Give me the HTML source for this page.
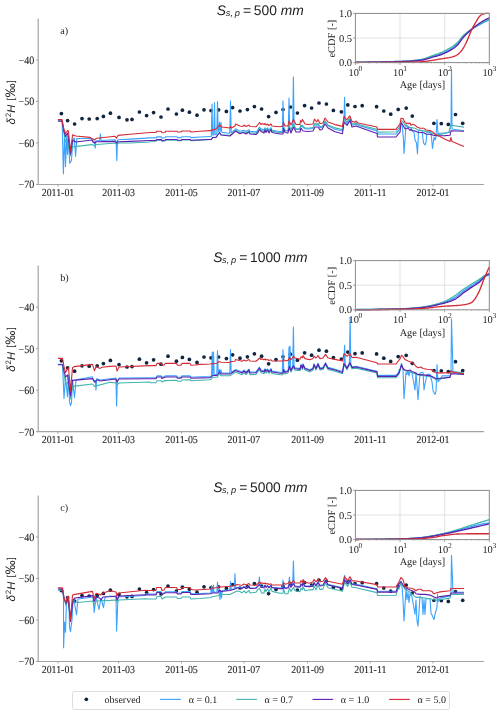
<!DOCTYPE html><html><head><meta charset="utf-8"><style>html,body{margin:0;padding:0;background:#fff;width:500px;height:715px;overflow:hidden}svg{display:block;text-rendering:geometricPrecision;-webkit-font-smoothing:antialiased;will-change:transform}</style></head><body>
<svg width="500" height="715" viewBox="0 0 500 715">
<rect width="500" height="715" fill="#fff"/>
<g transform="translate(0,0.0)">
<path d="M38.2,18.4 V184.5 H484" fill="none" stroke="#a3a3a3" stroke-width="1.2"/>
<line x1="36" y1="60.0" x2="38.2" y2="60.0" stroke="#a3a3a3" stroke-width="1"/>
<text transform="translate(34.3,63.9) scale(0.96,1.06)" text-anchor="end" style="font-family:'Liberation Serif',serif;font-size:10.5px" fill="#222" stroke="#222" stroke-width="0.08">−40</text>
<line x1="36" y1="101.5" x2="38.2" y2="101.5" stroke="#a3a3a3" stroke-width="1"/>
<text transform="translate(34.3,105.4) scale(0.96,1.06)" text-anchor="end" style="font-family:'Liberation Serif',serif;font-size:10.5px" fill="#222" stroke="#222" stroke-width="0.08">−50</text>
<line x1="36" y1="143.0" x2="38.2" y2="143.0" stroke="#a3a3a3" stroke-width="1"/>
<text transform="translate(34.3,146.9) scale(0.96,1.06)" text-anchor="end" style="font-family:'Liberation Serif',serif;font-size:10.5px" fill="#222" stroke="#222" stroke-width="0.08">−60</text>
<line x1="36" y1="184.5" x2="38.2" y2="184.5" stroke="#a3a3a3" stroke-width="1"/>
<text transform="translate(34.3,188.4) scale(0.96,1.06)" text-anchor="end" style="font-family:'Liberation Serif',serif;font-size:10.5px" fill="#222" stroke="#222" stroke-width="0.08">−70</text>
<line x1="58.0" y1="184.5" x2="58.0" y2="186.5" stroke="#a3a3a3" stroke-width="1"/>
<text transform="translate(58.0,195.9) scale(0.97,1.05)" text-anchor="middle" style="font-family:'Liberation Serif',serif;font-size:10.2px" fill="#222" stroke="#222" stroke-width="0.08">2011-01</text>
<line x1="118.6" y1="184.5" x2="118.6" y2="186.5" stroke="#a3a3a3" stroke-width="1"/>
<text transform="translate(118.6,195.9) scale(0.97,1.05)" text-anchor="middle" style="font-family:'Liberation Serif',serif;font-size:10.2px" fill="#222" stroke="#222" stroke-width="0.08">2011-03</text>
<line x1="181.5" y1="184.5" x2="181.5" y2="186.5" stroke="#a3a3a3" stroke-width="1"/>
<text transform="translate(181.5,195.9) scale(0.97,1.05)" text-anchor="middle" style="font-family:'Liberation Serif',serif;font-size:10.2px" fill="#222" stroke="#222" stroke-width="0.08">2011-05</text>
<line x1="243.9" y1="184.5" x2="243.9" y2="186.5" stroke="#a3a3a3" stroke-width="1"/>
<text transform="translate(243.9,195.9) scale(0.97,1.05)" text-anchor="middle" style="font-family:'Liberation Serif',serif;font-size:10.2px" fill="#222" stroke="#222" stroke-width="0.08">2011-07</text>
<line x1="307.6" y1="184.5" x2="307.6" y2="186.5" stroke="#a3a3a3" stroke-width="1"/>
<text transform="translate(307.6,195.9) scale(0.97,1.05)" text-anchor="middle" style="font-family:'Liberation Serif',serif;font-size:10.2px" fill="#222" stroke="#222" stroke-width="0.08">2011-09</text>
<line x1="370.3" y1="184.5" x2="370.3" y2="186.5" stroke="#a3a3a3" stroke-width="1"/>
<text transform="translate(370.3,195.9) scale(0.97,1.05)" text-anchor="middle" style="font-family:'Liberation Serif',serif;font-size:10.2px" fill="#222" stroke="#222" stroke-width="0.08">2011-11</text>
<line x1="433.0" y1="184.5" x2="433.0" y2="186.5" stroke="#a3a3a3" stroke-width="1"/>
<text transform="translate(433.0,195.9) scale(0.97,1.05)" text-anchor="middle" style="font-family:'Liberation Serif',serif;font-size:10.2px" fill="#222" stroke="#222" stroke-width="0.08">2012-01</text>
<text x="60.2" y="33.8" style="font-family:'Liberation Serif',serif;font-size:10.2px" fill="#222">a)</text>
<text transform="translate(15.2,102.3) rotate(-90)" text-anchor="middle" style="font-family:'Liberation Sans',sans-serif;font-size:12.6px" fill="#222"><tspan font-style="italic" font-size="11.6px">δ</tspan><tspan dy="-4.6" dx="0.7" font-size="7.8px">2</tspan><tspan dy="4.6" dx="0.3" font-style="italic" font-size="11.2px">H</tspan><tspan dx="4.0" dy="-1.2" font-size="10px">[</tspan><tspan dy="1.2" dx="0.5" font-size="13.8px">‰</tspan><tspan dx="0.6" dy="-1.2" font-size="10px">]</tspan></text>
<text x="216.8" y="14.9" style="font-family:'Liberation Sans',sans-serif;font-size:13.8px" fill="#222" font-style="italic">S</text>
<text x="225.8" y="16.3" style="font-family:'Liberation Sans',sans-serif;font-size:9.2px" fill="#222" font-style="italic">s, p</text>
<text x="243.0" y="14.9" style="font-family:'Liberation Sans',sans-serif;font-size:14px" fill="#222">=</text>
<text x="253.8" y="14.9" style="font-family:'Liberation Sans',sans-serif;font-size:13.8px" fill="#222">500</text>
<text x="280.8" y="14.9" style="font-family:'Liberation Sans',sans-serif;font-size:13.8px" fill="#222" font-style="italic">mm</text>
<circle cx="61.4" cy="113.6" r="1.85" fill="#10253f"/>
<circle cx="67.6" cy="120.6" r="1.85" fill="#10253f"/>
<circle cx="74.6" cy="124.0" r="1.85" fill="#10253f"/>
<circle cx="82.0" cy="118.6" r="1.85" fill="#10253f"/>
<circle cx="89.2" cy="119.0" r="1.85" fill="#10253f"/>
<circle cx="97.2" cy="118.6" r="1.85" fill="#10253f"/>
<circle cx="103.4" cy="116.4" r="1.85" fill="#10253f"/>
<circle cx="110.4" cy="113.2" r="1.85" fill="#10253f"/>
<circle cx="119.0" cy="117.4" r="1.85" fill="#10253f"/>
<circle cx="127.0" cy="119.8" r="1.85" fill="#10253f"/>
<circle cx="132.0" cy="119.4" r="1.85" fill="#10253f"/>
<circle cx="139.4" cy="112.0" r="1.85" fill="#10253f"/>
<circle cx="146.6" cy="115.6" r="1.85" fill="#10253f"/>
<circle cx="153.6" cy="112.6" r="1.85" fill="#10253f"/>
<circle cx="161.0" cy="117.0" r="1.85" fill="#10253f"/>
<circle cx="168.0" cy="109.0" r="1.85" fill="#10253f"/>
<circle cx="176.4" cy="114.0" r="1.85" fill="#10253f"/>
<circle cx="182.4" cy="110.2" r="1.85" fill="#10253f"/>
<circle cx="189.4" cy="112.2" r="1.85" fill="#10253f"/>
<circle cx="197.0" cy="115.2" r="1.85" fill="#10253f"/>
<circle cx="204.0" cy="109.8" r="1.85" fill="#10253f"/>
<circle cx="211.0" cy="110.6" r="1.85" fill="#10253f"/>
<circle cx="218.6" cy="109.8" r="1.85" fill="#10253f"/>
<circle cx="226.4" cy="111.4" r="1.85" fill="#10253f"/>
<circle cx="232.6" cy="107.6" r="1.85" fill="#10253f"/>
<circle cx="240.0" cy="111.0" r="1.85" fill="#10253f"/>
<circle cx="247.4" cy="109.6" r="1.85" fill="#10253f"/>
<circle cx="254.4" cy="106.6" r="1.85" fill="#10253f"/>
<circle cx="261.6" cy="109.0" r="1.85" fill="#10253f"/>
<circle cx="268.6" cy="116.6" r="1.85" fill="#10253f"/>
<circle cx="276.0" cy="112.4" r="1.85" fill="#10253f"/>
<circle cx="283.0" cy="109.6" r="1.85" fill="#10253f"/>
<circle cx="290.4" cy="107.0" r="1.85" fill="#10253f"/>
<circle cx="297.4" cy="113.0" r="1.85" fill="#10253f"/>
<circle cx="304.6" cy="105.6" r="1.85" fill="#10253f"/>
<circle cx="311.6" cy="108.0" r="1.85" fill="#10253f"/>
<circle cx="319.0" cy="103.0" r="1.85" fill="#10253f"/>
<circle cx="326.4" cy="104.0" r="1.85" fill="#10253f"/>
<circle cx="333.4" cy="110.4" r="1.85" fill="#10253f"/>
<circle cx="341.4" cy="111.8" r="1.85" fill="#10253f"/>
<circle cx="347.8" cy="104.9" r="1.85" fill="#10253f"/>
<circle cx="355.0" cy="106.5" r="1.85" fill="#10253f"/>
<circle cx="362.2" cy="105.7" r="1.85" fill="#10253f"/>
<circle cx="376.6" cy="106.7" r="1.85" fill="#10253f"/>
<circle cx="383.8" cy="111.0" r="1.85" fill="#10253f"/>
<circle cx="390.7" cy="114.2" r="1.85" fill="#10253f"/>
<circle cx="398.2" cy="109.4" r="1.85" fill="#10253f"/>
<circle cx="406.2" cy="108.1" r="1.85" fill="#10253f"/>
<circle cx="412.3" cy="116.1" r="1.85" fill="#10253f"/>
<circle cx="433.9" cy="123.3" r="1.85" fill="#10253f"/>
<circle cx="441.3" cy="123.6" r="1.85" fill="#10253f"/>
<circle cx="448.3" cy="124.4" r="1.85" fill="#10253f"/>
<circle cx="455.5" cy="114.5" r="1.85" fill="#10253f"/>
<circle cx="462.7" cy="123.3" r="1.85" fill="#10253f"/>
<polyline points="57.9,120.5 62.1,120.5 63.4,173.7 64.6,131.8 65.5,166.6 66.7,136.0 67.6,154.4 68.4,136.0 69.7,163.2 71.4,160.7 73.0,139.3 74.3,138.0 75.6,156.1 76.8,138.5 91.9,138.5 92.4,140.2 93.0,141.1 94.4,142.1 94.5,142.0 95.2,148.2 95.9,140.9 96.0,140.8 97.0,140.7 99.7,140.5 100.4,133.8 101.1,140.5 115.0,139.8 116.1,141.1 116.8,160.6 117.5,140.3 118.0,139.8 130.0,139.1 150.0,137.9 156.0,137.9 156.5,136.9 161.5,136.9 162.0,138.1 165.0,137.8 165.5,136.8 177.0,136.8 177.5,137.6 181.0,137.6 182.0,136.7 190.0,136.7 191.0,137.6 200.0,137.0 210.0,136.5 211.3,136.5 212.0,104.0 212.7,134.9 213.8,135.0 214.5,102.5 215.2,134.7 216.0,134.6 216.8,133.6 217.5,101.5 218.2,131.8 218.8,130.9 219.5,122.0 220.2,131.0 220.3,131.1 221.0,122.5 221.7,132.3 222.0,132.4 229.8,133.3 230.5,101.0 231.2,132.4 231.5,132.4 235.0,129.6 235.5,128.7 235.6,128.7 240.0,131.2 243.0,130.5 244.0,130.3 246.0,131.5 249.0,129.6 250.0,131.4 256.0,131.9 258.0,129.8 259.5,127.1 261.0,129.1 262.0,129.1 264.0,130.1 265.0,127.8 266.0,129.9 267.5,127.9 269.0,130.4 271.0,127.6 272.0,130.3 280.0,131.5 282.3,131.3 283.0,101.0 283.7,126.9 285.0,130.2 288.0,130.6 288.3,129.1 289.0,98.0 289.7,127.2 291.0,130.2 292.7,126.2 293.4,77.0 294.1,125.6 296.0,129.4 300.0,129.4 300.5,126.7 301.0,125.6 301.5,126.4 302.5,126.5 303.0,127.3 305.0,128.7 308.0,129.0 313.0,128.5 314.5,124.8 315.0,124.4 316.5,125.2 318.0,124.3 320.0,127.7 322.0,127.2 323.0,126.0 325.0,121.8 328.0,125.8 335.0,129.2 342.5,131.0 343.9,120.8 344.6,97.4 345.3,121.5 347.0,123.3 349.7,119.1 350.0,119.1 352.0,124.9 355.0,124.7 356.0,124.1 358.0,125.3 377.0,130.9 377.5,134.0 396.0,134.0 398.0,131.3 398.5,130.7 399.0,130.0 401.0,122.0 402.0,122.5 403.5,140.0 404.0,153.5 405.0,140.0 406.0,124.5 408.0,127.5 411.0,127.5 412.5,131.5 414.0,132.0 415.0,140.0 416.5,143.0 417.5,154.0 418.5,131.0 419.5,130.0 422.0,130.5 423.5,143.0 425.0,145.0 426.0,142.0 427.0,132.0 430.0,131.5 431.0,132.5 432.5,148.5 434.0,137.0 435.0,140.0 436.0,137.0 437.0,119.5 438.0,133.5 449.0,132.5 451.0,125.0 451.5,69.0 452.0,129.0 464.0,130.8" fill="none" stroke="#3aa2ff" stroke-width="1.1" stroke-linejoin="round"/>
<polyline points="57.9,120.5 62.1,120.5 63.8,131.8 65.5,141.8 67.6,140.2 70.5,156.0 72.6,146.9 91.9,144.6 94.4,145.8 96.0,144.8 100.0,144.2 116.0,143.0 117.0,144.5 119.0,143.0 130.0,143.0 150.0,142.0 150.5,141.3 156.0,141.2 156.5,140.3 161.5,140.3 162.0,141.2 165.0,140.9 165.5,140.1 177.0,140.0 177.5,140.8 181.0,140.7 182.0,139.9 190.0,139.8 191.0,140.6 200.0,140.1 210.0,139.5 211.5,139.5 212.5,137.5 214.0,137.4 216.0,137.3 217.0,135.9 219.5,132.3 221.0,134.7 222.0,134.8 230.0,135.4 230.6,134.8 231.5,134.1 235.0,131.0 235.5,130.4 235.6,130.4 240.0,132.9 243.0,131.8 244.0,132.0 246.0,133.0 249.0,131.0 250.0,132.9 256.0,133.3 258.0,131.2 259.5,128.3 261.0,130.3 262.0,130.6 264.0,131.5 265.0,128.9 266.0,131.2 267.5,128.9 269.0,131.6 271.0,128.5 272.0,131.3 280.0,132.6 283.0,132.1 283.5,127.0 285.0,130.8 288.0,130.9 289.0,125.8 291.0,130.3 293.5,124.2 296.0,129.0 300.0,128.6 300.5,125.7 301.0,124.9 301.5,125.7 302.5,125.3 303.0,126.2 305.0,127.9 308.0,128.2 313.0,127.6 314.5,123.6 315.0,123.5 316.5,124.5 318.0,123.3 320.0,126.8 322.0,126.3 323.0,125.3 325.0,120.9 328.0,124.9 335.0,127.9 342.5,129.6 344.0,119.1 347.0,122.2 349.7,118.0 350.0,118.3 352.0,123.8 355.0,123.9 356.0,123.0 358.0,124.5 377.0,129.3 377.5,132.1 396.0,131.8 398.0,129.0 399.0,127.7 400.0,126.7 400.5,123.2 401.0,120.8 403.0,121.5 405.0,125.2 408.0,126.1 410.0,127.4 415.0,128.3 418.0,130.0 424.0,130.9 430.0,132.7 437.0,134.9 440.0,134.4 445.0,133.5 449.0,132.0 451.0,125.2 464.0,127.1" fill="none" stroke="#41b5ae" stroke-width="1.1" stroke-linejoin="round"/>
<polyline points="57.9,121.3 62.1,121.3 63.8,131.0 65.5,136.4 67.6,133.0 70.5,154.0 72.6,140.2 76.0,142.0 91.9,140.0 93.0,142.0 94.4,143.0 96.0,141.8 115.0,141.4 116.4,143.0 118.0,141.8 130.0,141.4 150.0,140.5 156.0,140.5 156.5,139.6 161.5,139.6 162.0,140.6 165.0,140.3 165.5,139.5 177.0,139.5 177.5,140.3 181.0,140.3 182.0,139.5 190.0,139.5 191.0,140.3 210.0,139.5 211.5,139.5 212.5,137.5 216.0,137.5 219.5,132.5 221.0,135.0 230.0,136.0 235.5,131.0 240.0,133.8 243.0,132.5 246.0,134.0 249.0,132.0 250.0,134.0 256.0,134.5 258.0,132.5 259.5,129.5 261.0,131.5 264.0,133.0 265.0,130.0 266.0,132.5 267.5,130.0 269.0,133.0 271.0,129.5 272.0,132.5 280.0,134.0 283.0,134.0 283.5,128.5 285.0,132.5 288.0,133.0 289.0,128.0 291.0,133.0 293.5,127.0 296.0,132.0 300.0,132.0 301.0,128.0 303.0,131.0 308.0,131.5 313.0,131.0 315.0,127.0 318.0,127.0 320.0,130.0 322.0,129.5 325.0,124.0 328.0,128.0 335.0,131.8 342.5,133.7 344.0,122.2 347.0,125.4 350.0,120.6 352.0,127.0 356.0,126.0 377.0,133.4 377.5,136.9 396.0,137.0 398.0,134.4 400.0,132.2 401.0,123.4 403.0,125.2 405.0,128.7 407.0,128.7 408.0,127.8 409.0,129.2 410.0,130.5 411.0,129.2 412.0,130.5 415.0,130.9 418.0,132.2 424.0,132.7 426.0,134.0 431.0,134.4 433.0,135.3 437.0,135.8 445.0,135.6 450.0,135.3 451.0,130.8 464.0,131.3" fill="none" stroke="#5e1fae" stroke-width="1.1" stroke-linejoin="round"/>
<polyline points="57.9,119.6 62.1,119.6 63.8,128.8 65.5,133.5 67.6,130.5 68.4,131.0 70.5,151.0 72.6,134.7 75.6,136.0 90.0,137.4 93.0,139.0 94.4,140.2 96.0,138.6 97.0,138.2 115.0,136.2 116.4,138.2 118.0,135.4 130.0,134.2 150.0,132.5 156.0,132.5 156.5,131.3 161.5,131.3 162.0,132.8 165.0,132.5 165.5,131.2 177.0,131.2 177.5,132.0 181.0,132.0 182.0,131.0 190.0,131.0 191.0,132.0 200.0,131.2 210.0,130.6 211.5,130.5 212.5,129.5 214.0,130.0 217.0,128.0 219.5,125.0 222.0,127.0 230.0,128.0 230.6,126.5 231.5,128.0 235.0,126.0 235.6,124.0 240.0,126.0 243.0,126.5 244.0,125.0 246.0,126.5 249.0,125.0 250.0,126.5 256.0,126.8 258.0,124.5 259.5,122.5 261.0,124.5 262.0,123.5 264.0,124.5 265.0,123.5 266.0,125.0 267.5,124.0 269.0,125.5 271.0,124.0 272.0,126.0 280.0,126.8 283.0,126.0 283.5,122.5 285.0,126.0 288.0,126.0 289.0,121.0 291.0,125.0 293.5,119.5 296.0,124.5 300.0,124.5 300.5,120.5 301.5,122.0 302.5,119.5 305.0,124.0 308.0,124.5 313.0,124.0 314.5,119.0 316.5,122.0 318.0,119.5 320.0,123.5 323.0,123.0 325.0,118.0 328.0,122.0 335.0,124.6 342.5,126.4 344.0,116.6 347.0,119.8 349.7,115.8 352.0,121.4 355.0,122.2 356.0,121.0 358.0,123.0 377.0,127.0 377.5,129.4 396.0,129.4 399.0,125.2 400.0,124.3 401.0,118.2 403.0,118.6 405.0,122.6 406.5,123.4 408.0,123.0 409.0,123.9 410.0,123.0 411.0,125.2 413.0,124.3 415.0,125.2 417.0,127.0 420.0,128.3 424.0,128.3 426.0,130.0 429.0,130.5 431.0,130.9 433.0,132.2 435.0,134.0 437.0,135.3 440.0,136.6 445.0,139.2 450.0,141.5 450.9,137.5 452.0,141.5 464.0,146.5" fill="none" stroke="#d42a36" stroke-width="1.1" stroke-linejoin="round"/>
<rect x="355.4" y="13.4" width="133.9" height="49.2" fill="#fff"/>
<line x1="400.0" y1="13.4" x2="400.0" y2="62.6" stroke="#d9d9d9" stroke-width="0.8"/>
<line x1="444.7" y1="13.4" x2="444.7" y2="62.6" stroke="#d9d9d9" stroke-width="0.8"/>
<line x1="355.4" y1="38" x2="489.3" y2="38" stroke="#d9d9d9" stroke-width="0.8"/>
<line x1="368.8" y1="62.6" x2="368.8" y2="63.8" stroke="#bbb" stroke-width="0.6"/>
<line x1="376.7" y1="62.6" x2="376.7" y2="63.8" stroke="#bbb" stroke-width="0.6"/>
<line x1="382.3" y1="62.6" x2="382.3" y2="63.8" stroke="#bbb" stroke-width="0.6"/>
<line x1="386.6" y1="62.6" x2="386.6" y2="63.8" stroke="#bbb" stroke-width="0.6"/>
<line x1="390.1" y1="62.6" x2="390.1" y2="63.8" stroke="#bbb" stroke-width="0.6"/>
<line x1="393.1" y1="62.6" x2="393.1" y2="63.8" stroke="#bbb" stroke-width="0.6"/>
<line x1="395.7" y1="62.6" x2="395.7" y2="63.8" stroke="#bbb" stroke-width="0.6"/>
<line x1="398.0" y1="62.6" x2="398.0" y2="63.8" stroke="#bbb" stroke-width="0.6"/>
<line x1="413.5" y1="62.6" x2="413.5" y2="63.8" stroke="#bbb" stroke-width="0.6"/>
<line x1="421.3" y1="62.6" x2="421.3" y2="63.8" stroke="#bbb" stroke-width="0.6"/>
<line x1="426.9" y1="62.6" x2="426.9" y2="63.8" stroke="#bbb" stroke-width="0.6"/>
<line x1="431.2" y1="62.6" x2="431.2" y2="63.8" stroke="#bbb" stroke-width="0.6"/>
<line x1="434.8" y1="62.6" x2="434.8" y2="63.8" stroke="#bbb" stroke-width="0.6"/>
<line x1="437.8" y1="62.6" x2="437.8" y2="63.8" stroke="#bbb" stroke-width="0.6"/>
<line x1="440.3" y1="62.6" x2="440.3" y2="63.8" stroke="#bbb" stroke-width="0.6"/>
<line x1="442.6" y1="62.6" x2="442.6" y2="63.8" stroke="#bbb" stroke-width="0.6"/>
<line x1="458.1" y1="62.6" x2="458.1" y2="63.8" stroke="#bbb" stroke-width="0.6"/>
<line x1="466.0" y1="62.6" x2="466.0" y2="63.8" stroke="#bbb" stroke-width="0.6"/>
<line x1="471.5" y1="62.6" x2="471.5" y2="63.8" stroke="#bbb" stroke-width="0.6"/>
<line x1="475.9" y1="62.6" x2="475.9" y2="63.8" stroke="#bbb" stroke-width="0.6"/>
<line x1="479.4" y1="62.6" x2="479.4" y2="63.8" stroke="#bbb" stroke-width="0.6"/>
<line x1="482.4" y1="62.6" x2="482.4" y2="63.8" stroke="#bbb" stroke-width="0.6"/>
<line x1="485.0" y1="62.6" x2="485.0" y2="63.8" stroke="#bbb" stroke-width="0.6"/>
<line x1="487.3" y1="62.6" x2="487.3" y2="63.8" stroke="#bbb" stroke-width="0.6"/>
<polyline points="355.4,62.1 356.5,62.1 357.6,62.1 358.7,62.1 359.9,62.1 361.0,62.1 362.1,62.1 363.2,62.1 364.3,62.1 365.4,62.1 366.6,62.1 367.7,62.0 368.8,62.0 369.9,62.0 371.0,62.0 372.1,62.0 373.3,62.0 374.4,62.0 375.5,62.0 376.6,61.9 377.7,61.9 378.8,61.9 379.9,61.9 381.1,61.9 382.2,61.8 383.3,61.8 384.4,61.8 385.5,61.8 386.6,61.8 387.8,61.7 388.9,61.7 390.0,61.7 391.1,61.7 392.2,61.6 393.3,61.6 394.5,61.6 395.6,61.5 396.7,61.5 397.8,61.5 398.9,61.5 400.0,61.4 401.1,61.4 402.3,61.3 403.4,61.3 404.5,61.2 405.6,61.2 406.7,61.1 407.8,61.1 409.0,61.0 410.1,60.9 411.2,60.8 412.3,60.7 413.4,60.6 414.5,60.5 415.7,60.4 416.8,60.3 417.9,60.1 419.0,60.0 420.1,59.9 421.2,59.7 422.4,59.5 423.5,59.2 424.6,58.9 425.7,58.6 426.8,58.2 427.9,57.9 429.0,57.5 430.2,57.1 431.3,56.7 432.4,56.3 433.5,55.9 434.6,55.6 435.7,55.3 436.9,54.9 438.0,54.6 439.1,54.3 440.2,53.9 441.3,53.5 442.4,53.1 443.6,52.7 444.7,52.2 445.8,51.7 446.9,51.1 448.0,50.6 449.1,50.0 450.2,49.4 451.4,48.7 452.5,48.0 453.6,47.2 454.7,46.4 455.8,45.5 456.9,44.5 458.1,43.3 459.2,41.8 460.3,40.2 461.4,38.7 462.5,37.5 463.6,36.3 464.8,35.2 465.9,34.2 467.0,33.2 468.1,32.2 469.2,31.3 470.3,30.4 471.4,29.6 472.6,28.8 473.7,28.0 474.8,27.3 475.9,26.7 477.0,26.0 478.1,25.4 479.3,24.8 480.4,24.2 481.5,23.7 482.6,23.1 483.7,22.5 484.8,22.0 486.0,21.5 487.1,21.0 488.2,20.5 489.3,20.0" fill="none" stroke="#3aa2ff" stroke-width="1.35" stroke-linejoin="round"/>
<polyline points="355.4,62.2 356.5,62.2 357.6,62.2 358.7,62.2 359.9,62.2 361.0,62.2 362.1,62.2 363.2,62.2 364.3,62.2 365.4,62.2 366.6,62.1 367.7,62.1 368.8,62.1 369.9,62.1 371.0,62.1 372.1,62.1 373.3,62.1 374.4,62.0 375.5,62.0 376.6,62.0 377.7,62.0 378.8,62.0 379.9,61.9 381.1,61.9 382.2,61.9 383.3,61.9 384.4,61.8 385.5,61.8 386.6,61.8 387.8,61.7 388.9,61.7 390.0,61.7 391.1,61.6 392.2,61.6 393.3,61.6 394.5,61.5 395.6,61.5 396.7,61.5 397.8,61.4 398.9,61.4 400.0,61.4 401.1,61.3 402.3,61.3 403.4,61.2 404.5,61.2 405.6,61.1 406.7,61.0 407.8,60.9 409.0,60.9 410.1,60.8 411.2,60.7 412.3,60.6 413.4,60.5 414.5,60.3 415.7,60.2 416.8,60.1 417.9,59.9 419.0,59.8 420.1,59.6 421.2,59.4 422.4,59.2 423.5,58.9 424.6,58.6 425.7,58.2 426.8,57.8 427.9,57.4 429.0,57.0 430.2,56.5 431.3,56.1 432.4,55.7 433.5,55.3 434.6,54.9 435.7,54.5 436.9,54.1 438.0,53.8 439.1,53.4 440.2,52.9 441.3,52.5 442.4,52.0 443.6,51.5 444.7,50.9 445.8,50.4 446.9,49.8 448.0,49.1 449.1,48.5 450.2,47.9 451.4,47.2 452.5,46.5 453.6,45.7 454.7,44.9 455.8,44.1 456.9,43.1 458.1,42.0 459.2,40.6 460.3,39.1 461.4,37.7 462.5,36.5 463.6,35.3 464.8,34.2 465.9,33.2 467.0,32.3 468.1,31.5 469.2,30.8 470.3,30.1 471.4,29.4 472.6,28.6 473.7,27.9 474.8,27.2 475.9,26.4 477.0,25.7 478.1,25.0 479.3,24.4 480.4,23.7 481.5,23.1 482.6,22.6 483.7,22.0 484.8,21.5 486.0,20.9 487.1,20.4 488.2,20.0 489.3,19.5" fill="none" stroke="#41b5ae" stroke-width="1.35" stroke-linejoin="round"/>
<polyline points="355.4,62.3 356.5,62.3 357.6,62.3 358.7,62.3 359.9,62.3 361.0,62.3 362.1,62.3 363.2,62.3 364.3,62.3 365.4,62.3 366.6,62.3 367.7,62.2 368.8,62.2 369.9,62.2 371.0,62.2 372.1,62.2 373.3,62.2 374.4,62.2 375.5,62.1 376.6,62.1 377.7,62.1 378.8,62.1 379.9,62.1 381.1,62.1 382.2,62.0 383.3,62.0 384.4,62.0 385.5,62.0 386.6,61.9 387.8,61.9 388.9,61.9 390.0,61.9 391.1,61.8 392.2,61.8 393.3,61.8 394.5,61.8 395.6,61.7 396.7,61.7 397.8,61.7 398.9,61.6 400.0,61.6 401.1,61.6 402.3,61.5 403.4,61.5 404.5,61.5 405.6,61.4 406.7,61.4 407.8,61.3 409.0,61.3 410.1,61.2 411.2,61.1 412.3,61.0 413.4,61.0 414.5,60.9 415.7,60.8 416.8,60.7 417.9,60.6 419.0,60.5 420.1,60.4 421.2,60.2 422.4,60.0 423.5,59.8 424.6,59.5 425.7,59.3 426.8,58.9 427.9,58.6 429.0,58.3 430.2,57.9 431.3,57.6 432.4,57.2 433.5,56.9 434.6,56.6 435.7,56.3 436.9,56.0 438.0,55.7 439.1,55.3 440.2,55.0 441.3,54.6 442.4,54.1 443.6,53.7 444.7,53.2 445.8,52.7 446.9,52.1 448.0,51.6 449.1,51.0 450.2,50.4 451.4,49.7 452.5,49.0 453.6,48.3 454.7,47.5 455.8,46.6 456.9,45.6 458.1,44.4 459.2,42.9 460.3,41.3 461.4,39.8 462.5,38.4 463.6,37.1 464.8,35.8 465.9,34.6 467.0,33.5 468.1,32.5 469.2,31.4 470.3,30.4 471.4,29.5 472.6,28.6 473.7,27.6 474.8,26.7 475.9,25.9 477.0,25.0 478.1,24.2 479.3,23.4 480.4,22.7 481.5,22.0 482.6,21.3 483.7,20.7 484.8,20.0 486.0,19.4 487.1,18.9 488.2,18.3 489.3,17.8" fill="none" stroke="#5e1fae" stroke-width="1.35" stroke-linejoin="round"/>
<polyline points="355.4,62.5 356.5,62.5 357.6,62.5 358.7,62.5 359.9,62.4 361.0,62.4 362.1,62.4 363.2,62.4 364.3,62.4 365.4,62.4 366.6,62.4 367.7,62.4 368.8,62.4 369.9,62.4 371.0,62.4 372.1,62.4 373.3,62.4 374.4,62.4 375.5,62.4 376.6,62.4 377.7,62.4 378.8,62.4 379.9,62.4 381.1,62.4 382.2,62.4 383.3,62.3 384.4,62.3 385.5,62.3 386.6,62.3 387.8,62.3 388.9,62.3 390.0,62.3 391.1,62.3 392.2,62.3 393.3,62.3 394.5,62.3 395.6,62.2 396.7,62.2 397.8,62.2 398.9,62.2 400.0,62.2 401.1,62.2 402.3,62.2 403.4,62.2 404.5,62.2 405.6,62.1 406.7,62.1 407.8,62.1 409.0,62.1 410.1,62.1 411.2,62.0 412.3,62.0 413.4,62.0 414.5,61.9 415.7,61.9 416.8,61.9 417.9,61.8 419.0,61.8 420.1,61.8 421.2,61.7 422.4,61.6 423.5,61.5 424.6,61.4 425.7,61.3 426.8,61.1 427.9,61.0 429.0,60.8 430.2,60.6 431.3,60.5 432.4,60.3 433.5,60.1 434.6,60.0 435.7,59.8 436.9,59.6 438.0,59.4 439.1,59.2 440.2,59.0 441.3,58.8 442.4,58.7 443.6,58.5 444.7,58.4 445.8,58.2 446.9,58.0 448.0,57.9 449.1,57.7 450.2,57.4 451.4,57.2 452.5,56.9 453.6,56.5 454.7,56.1 455.8,55.6 456.9,55.0 458.1,54.3 459.2,53.3 460.3,52.1 461.4,50.8 462.5,49.3 463.6,47.6 464.8,45.5 465.9,43.3 467.0,40.9 468.1,38.2 469.2,35.5 470.3,32.8 471.4,30.2 472.6,27.9 473.7,25.8 474.8,23.9 475.9,22.0 477.0,20.1 478.1,18.3 479.3,16.7 480.4,15.6 481.5,14.7 482.6,14.0 483.7,13.8 484.8,13.6 486.0,13.4 487.1,13.4 488.2,13.4 489.3,13.4" fill="none" stroke="#d42a36" stroke-width="1.35" stroke-linejoin="round"/>
<rect x="355.4" y="13.4" width="133.9" height="49.2" fill="none" stroke="#8a8a8a" stroke-width="1"/>
<line x1="353.0" y1="13.4" x2="355.4" y2="13.4" stroke="#8a8a8a" stroke-width="0.8"/>
<text x="352.1" y="17.0" text-anchor="end" style="font-family:'Liberation Serif',serif;font-size:10.5px" fill="#222">1.0</text>
<line x1="353.0" y1="38.0" x2="355.4" y2="38.0" stroke="#8a8a8a" stroke-width="0.8"/>
<text x="352.1" y="41.6" text-anchor="end" style="font-family:'Liberation Serif',serif;font-size:10.5px" fill="#222">0.5</text>
<line x1="353.0" y1="62.6" x2="355.4" y2="62.6" stroke="#8a8a8a" stroke-width="0.8"/>
<text x="352.1" y="66.2" text-anchor="end" style="font-family:'Liberation Serif',serif;font-size:10.5px" fill="#222">0.0</text>
<line x1="355.4" y1="62.6" x2="355.4" y2="65.0" stroke="#8a8a8a" stroke-width="0.8"/>
<text x="348.5" y="76.2" style="font-family:'Liberation Serif',serif;font-size:10.4px" fill="#222">10<tspan dy="-5.2" dx="-0.3" font-size="7.6px">0</tspan></text>
<line x1="400.0" y1="62.6" x2="400.0" y2="65.0" stroke="#8a8a8a" stroke-width="0.8"/>
<text x="393.1" y="76.2" style="font-family:'Liberation Serif',serif;font-size:10.4px" fill="#222">10<tspan dy="-5.2" dx="-0.3" font-size="7.6px">1</tspan></text>
<line x1="444.7" y1="62.6" x2="444.7" y2="65.0" stroke="#8a8a8a" stroke-width="0.8"/>
<text x="437.8" y="76.2" style="font-family:'Liberation Serif',serif;font-size:10.4px" fill="#222">10<tspan dy="-5.2" dx="-0.3" font-size="7.6px">2</tspan></text>
<line x1="489.3" y1="62.6" x2="489.3" y2="65.0" stroke="#8a8a8a" stroke-width="0.8"/>
<text x="482.4" y="76.2" style="font-family:'Liberation Serif',serif;font-size:10.4px" fill="#222">10<tspan dy="-5.2" dx="-0.3" font-size="7.6px">3</tspan></text>
<text x="422.4" y="88.4" text-anchor="middle" style="font-family:'Liberation Serif',serif;font-size:10.3px" fill="#222">Age [days]</text>
<text transform="translate(335.3,38.6) rotate(-90)" text-anchor="middle" style="font-family:'Liberation Serif',serif;font-size:10.4px" fill="#222">eCDF [-]</text>
</g>
<g transform="translate(0,247.2)">
<path d="M38.2,18.4 V184.5 H484" fill="none" stroke="#a3a3a3" stroke-width="1.2"/>
<line x1="36" y1="60.0" x2="38.2" y2="60.0" stroke="#a3a3a3" stroke-width="1"/>
<text transform="translate(34.3,63.9) scale(0.96,1.06)" text-anchor="end" style="font-family:'Liberation Serif',serif;font-size:10.5px" fill="#222" stroke="#222" stroke-width="0.08">−40</text>
<line x1="36" y1="101.5" x2="38.2" y2="101.5" stroke="#a3a3a3" stroke-width="1"/>
<text transform="translate(34.3,105.4) scale(0.96,1.06)" text-anchor="end" style="font-family:'Liberation Serif',serif;font-size:10.5px" fill="#222" stroke="#222" stroke-width="0.08">−50</text>
<line x1="36" y1="143.0" x2="38.2" y2="143.0" stroke="#a3a3a3" stroke-width="1"/>
<text transform="translate(34.3,146.9) scale(0.96,1.06)" text-anchor="end" style="font-family:'Liberation Serif',serif;font-size:10.5px" fill="#222" stroke="#222" stroke-width="0.08">−60</text>
<line x1="36" y1="184.5" x2="38.2" y2="184.5" stroke="#a3a3a3" stroke-width="1"/>
<text transform="translate(34.3,188.4) scale(0.96,1.06)" text-anchor="end" style="font-family:'Liberation Serif',serif;font-size:10.5px" fill="#222" stroke="#222" stroke-width="0.08">−70</text>
<line x1="58.0" y1="184.5" x2="58.0" y2="186.5" stroke="#a3a3a3" stroke-width="1"/>
<text transform="translate(58.0,195.9) scale(0.97,1.05)" text-anchor="middle" style="font-family:'Liberation Serif',serif;font-size:10.2px" fill="#222" stroke="#222" stroke-width="0.08">2011-01</text>
<line x1="118.6" y1="184.5" x2="118.6" y2="186.5" stroke="#a3a3a3" stroke-width="1"/>
<text transform="translate(118.6,195.9) scale(0.97,1.05)" text-anchor="middle" style="font-family:'Liberation Serif',serif;font-size:10.2px" fill="#222" stroke="#222" stroke-width="0.08">2011-03</text>
<line x1="181.5" y1="184.5" x2="181.5" y2="186.5" stroke="#a3a3a3" stroke-width="1"/>
<text transform="translate(181.5,195.9) scale(0.97,1.05)" text-anchor="middle" style="font-family:'Liberation Serif',serif;font-size:10.2px" fill="#222" stroke="#222" stroke-width="0.08">2011-05</text>
<line x1="243.9" y1="184.5" x2="243.9" y2="186.5" stroke="#a3a3a3" stroke-width="1"/>
<text transform="translate(243.9,195.9) scale(0.97,1.05)" text-anchor="middle" style="font-family:'Liberation Serif',serif;font-size:10.2px" fill="#222" stroke="#222" stroke-width="0.08">2011-07</text>
<line x1="307.6" y1="184.5" x2="307.6" y2="186.5" stroke="#a3a3a3" stroke-width="1"/>
<text transform="translate(307.6,195.9) scale(0.97,1.05)" text-anchor="middle" style="font-family:'Liberation Serif',serif;font-size:10.2px" fill="#222" stroke="#222" stroke-width="0.08">2011-09</text>
<line x1="370.3" y1="184.5" x2="370.3" y2="186.5" stroke="#a3a3a3" stroke-width="1"/>
<text transform="translate(370.3,195.9) scale(0.97,1.05)" text-anchor="middle" style="font-family:'Liberation Serif',serif;font-size:10.2px" fill="#222" stroke="#222" stroke-width="0.08">2011-11</text>
<line x1="433.0" y1="184.5" x2="433.0" y2="186.5" stroke="#a3a3a3" stroke-width="1"/>
<text transform="translate(433.0,195.9) scale(0.97,1.05)" text-anchor="middle" style="font-family:'Liberation Serif',serif;font-size:10.2px" fill="#222" stroke="#222" stroke-width="0.08">2012-01</text>
<text x="60.2" y="33.8" style="font-family:'Liberation Serif',serif;font-size:10.2px" fill="#222">b)</text>
<text transform="translate(15.2,102.3) rotate(-90)" text-anchor="middle" style="font-family:'Liberation Sans',sans-serif;font-size:12.6px" fill="#222"><tspan font-style="italic" font-size="11.6px">δ</tspan><tspan dy="-4.6" dx="0.7" font-size="7.8px">2</tspan><tspan dy="4.6" dx="0.3" font-style="italic" font-size="11.2px">H</tspan><tspan dx="4.0" dy="-1.2" font-size="10px">[</tspan><tspan dy="1.2" dx="0.5" font-size="13.8px">‰</tspan><tspan dx="0.6" dy="-1.2" font-size="10px">]</tspan></text>
<text x="213.2" y="14.9" style="font-family:'Liberation Sans',sans-serif;font-size:13.8px" fill="#222" font-style="italic">S</text>
<text x="222.1" y="16.3" style="font-family:'Liberation Sans',sans-serif;font-size:9.2px" fill="#222" font-style="italic">s, p</text>
<text x="239.3" y="14.9" style="font-family:'Liberation Sans',sans-serif;font-size:14px" fill="#222">=</text>
<text x="250.1" y="14.9" style="font-family:'Liberation Sans',sans-serif;font-size:13.8px" fill="#222">1000</text>
<text x="284.5" y="14.9" style="font-family:'Liberation Sans',sans-serif;font-size:13.8px" fill="#222" font-style="italic">mm</text>
<circle cx="61.4" cy="113.6" r="1.85" fill="#10253f"/>
<circle cx="67.6" cy="120.6" r="1.85" fill="#10253f"/>
<circle cx="74.6" cy="124.0" r="1.85" fill="#10253f"/>
<circle cx="82.0" cy="118.6" r="1.85" fill="#10253f"/>
<circle cx="89.2" cy="119.0" r="1.85" fill="#10253f"/>
<circle cx="97.2" cy="118.6" r="1.85" fill="#10253f"/>
<circle cx="103.4" cy="116.4" r="1.85" fill="#10253f"/>
<circle cx="110.4" cy="113.2" r="1.85" fill="#10253f"/>
<circle cx="119.0" cy="117.4" r="1.85" fill="#10253f"/>
<circle cx="127.0" cy="119.8" r="1.85" fill="#10253f"/>
<circle cx="132.0" cy="119.4" r="1.85" fill="#10253f"/>
<circle cx="139.4" cy="112.0" r="1.85" fill="#10253f"/>
<circle cx="146.6" cy="115.6" r="1.85" fill="#10253f"/>
<circle cx="153.6" cy="112.6" r="1.85" fill="#10253f"/>
<circle cx="161.0" cy="117.0" r="1.85" fill="#10253f"/>
<circle cx="168.0" cy="109.0" r="1.85" fill="#10253f"/>
<circle cx="176.4" cy="114.0" r="1.85" fill="#10253f"/>
<circle cx="182.4" cy="110.2" r="1.85" fill="#10253f"/>
<circle cx="189.4" cy="112.2" r="1.85" fill="#10253f"/>
<circle cx="197.0" cy="115.2" r="1.85" fill="#10253f"/>
<circle cx="204.0" cy="109.8" r="1.85" fill="#10253f"/>
<circle cx="211.0" cy="110.6" r="1.85" fill="#10253f"/>
<circle cx="218.6" cy="109.8" r="1.85" fill="#10253f"/>
<circle cx="226.4" cy="111.4" r="1.85" fill="#10253f"/>
<circle cx="232.6" cy="107.6" r="1.85" fill="#10253f"/>
<circle cx="240.0" cy="111.0" r="1.85" fill="#10253f"/>
<circle cx="247.4" cy="109.6" r="1.85" fill="#10253f"/>
<circle cx="254.4" cy="106.6" r="1.85" fill="#10253f"/>
<circle cx="261.6" cy="109.0" r="1.85" fill="#10253f"/>
<circle cx="268.6" cy="116.6" r="1.85" fill="#10253f"/>
<circle cx="276.0" cy="112.4" r="1.85" fill="#10253f"/>
<circle cx="283.0" cy="109.6" r="1.85" fill="#10253f"/>
<circle cx="290.4" cy="107.0" r="1.85" fill="#10253f"/>
<circle cx="297.4" cy="113.0" r="1.85" fill="#10253f"/>
<circle cx="304.6" cy="105.6" r="1.85" fill="#10253f"/>
<circle cx="311.6" cy="108.0" r="1.85" fill="#10253f"/>
<circle cx="319.0" cy="103.0" r="1.85" fill="#10253f"/>
<circle cx="326.4" cy="104.0" r="1.85" fill="#10253f"/>
<circle cx="333.4" cy="110.4" r="1.85" fill="#10253f"/>
<circle cx="341.4" cy="111.8" r="1.85" fill="#10253f"/>
<circle cx="347.8" cy="104.9" r="1.85" fill="#10253f"/>
<circle cx="355.0" cy="106.5" r="1.85" fill="#10253f"/>
<circle cx="362.2" cy="105.7" r="1.85" fill="#10253f"/>
<circle cx="376.6" cy="106.7" r="1.85" fill="#10253f"/>
<circle cx="383.8" cy="111.0" r="1.85" fill="#10253f"/>
<circle cx="390.7" cy="114.2" r="1.85" fill="#10253f"/>
<circle cx="398.2" cy="109.4" r="1.85" fill="#10253f"/>
<circle cx="406.2" cy="108.1" r="1.85" fill="#10253f"/>
<circle cx="412.3" cy="116.1" r="1.85" fill="#10253f"/>
<circle cx="433.9" cy="123.3" r="1.85" fill="#10253f"/>
<circle cx="441.3" cy="123.6" r="1.85" fill="#10253f"/>
<circle cx="448.3" cy="124.4" r="1.85" fill="#10253f"/>
<circle cx="455.5" cy="114.5" r="1.85" fill="#10253f"/>
<circle cx="462.7" cy="123.3" r="1.85" fill="#10253f"/>
<polyline points="57.9,117.0 62.5,117.0 64.0,151.2 65.5,130.2 67.5,149.4 68.5,127.8 69.5,154.2 70.5,158.4 71.5,155.4 72.5,132.6 74.5,150.6 76.0,132.6 92.5,129.6 93.0,131.2 94.5,134.1 95.3,133.2 96.0,142.8 96.7,131.8 97.0,131.6 100.0,132.8 102.0,132.5 110.0,131.5 115.9,130.8 116.6,158.8 117.3,133.5 119.0,130.8 150.0,130.5 156.0,130.5 157.0,128.7 161.0,128.7 162.0,130.2 164.0,129.4 165.5,128.7 176.5,128.7 177.5,130.0 181.0,130.0 182.0,128.7 190.0,128.7 191.0,130.0 195.0,129.8 200.0,129.6 210.0,129.3 211.5,128.7 211.5,128.7 212.2,104.8 212.8,127.3 213.5,104.8 214.2,127.3 216.8,127.3 217.5,103.3 218.2,125.8 218.8,125.0 219.5,122.3 220.2,125.0 220.3,125.1 221.0,122.8 221.7,125.9 229.8,125.9 230.5,102.3 231.2,125.1 235.0,122.8 235.5,122.4 242.0,124.9 244.0,122.9 246.0,124.8 249.0,122.0 250.0,124.8 256.0,124.7 257.5,122.6 258.0,122.0 259.5,120.0 261.0,122.9 262.0,123.1 264.0,123.8 265.0,121.5 266.0,123.4 267.5,121.8 269.0,123.9 271.0,121.5 272.0,123.9 280.0,125.0 282.3,125.0 283.0,102.4 283.7,121.8 285.0,124.3 288.0,123.4 288.3,122.4 289.0,99.8 289.3,119.1 290.0,98.8 290.7,121.7 291.0,122.5 292.7,119.3 293.4,79.8 294.1,119.0 295.0,120.7 300.0,121.4 301.0,117.3 302.5,120.2 303.0,116.7 305.0,120.8 310.0,122.5 313.0,120.8 314.0,116.7 316.0,120.7 318.0,116.1 320.0,120.8 323.0,120.2 325.5,115.5 328.0,120.2 335.0,122.0 342.5,124.3 343.9,116.2 344.6,98.0 345.3,117.6 347.0,120.2 349.4,115.9 350.1,70.1 350.8,116.8 352.0,119.6 356.0,119.0 377.0,124.0 377.5,128.2 396.0,128.2 398.5,125.3 399.0,122.8 400.0,122.0 401.5,116.1 403.0,121.3 404.0,151.6 406.0,125.0 407.0,127.2 408.0,124.2 409.0,128.7 410.0,124.2 412.0,125.8 414.0,136.8 415.0,142.8 416.0,125.0 417.0,138.3 418.0,152.4 420.0,125.8 423.0,125.0 424.0,142.8 425.0,136.8 427.0,127.2 430.0,127.2 432.0,134.6 433.0,143.5 435.0,147.2 436.0,144.2 437.0,117.6 438.0,134.6 440.0,132.4 442.0,128.7 450.0,128.7 451.0,126.5 451.5,71.8 453.0,125.7 464.0,126.5" fill="none" stroke="#3aa2ff" stroke-width="1.1" stroke-linejoin="round"/>
<polyline points="57.9,117.3 62.5,117.3 64.0,127.8 66.0,137.4 68.0,134.8 70.5,151.8 72.5,139.2 92.5,136.8 94.5,139.2 110.0,135.0 116.0,135.8 117.0,137.8 119.0,135.8 150.0,134.8 150.5,135.5 156.0,135.4 157.0,133.6 161.0,133.5 162.0,134.7 164.0,133.7 165.5,133.4 176.5,133.0 177.5,134.0 181.0,133.9 182.0,132.8 190.0,132.5 191.0,133.6 195.0,133.3 200.0,133.1 210.0,132.5 211.5,131.8 212.5,130.1 217.0,130.1 219.0,127.3 219.5,126.6 221.0,128.5 230.0,128.5 231.0,127.9 235.0,125.0 235.5,124.9 242.0,127.5 244.0,125.4 246.0,127.5 249.0,124.3 250.0,127.5 256.0,127.2 257.5,125.0 258.0,124.2 259.5,122.2 261.0,125.4 262.0,125.8 264.0,126.5 265.0,123.7 266.0,125.9 267.5,124.0 269.0,126.3 271.0,123.6 272.0,126.3 280.0,127.6 283.0,127.6 283.5,123.7 285.0,126.7 288.0,125.7 289.5,120.4 291.0,124.8 293.5,119.8 295.0,123.0 300.0,123.5 301.0,119.1 302.5,122.3 303.0,118.5 305.0,122.9 310.0,124.7 313.0,122.9 314.0,118.4 316.0,122.9 318.0,117.8 320.0,122.8 323.0,122.2 325.5,117.3 328.0,122.2 335.0,124.0 342.5,126.5 344.0,117.5 347.0,122.6 350.0,116.6 352.0,121.5 356.0,120.9 377.0,125.7 377.5,130.5 396.0,130.5 399.0,127.0 400.0,123.5 401.0,120.2 401.5,118.3 403.0,121.8 405.0,123.3 408.0,124.3 412.0,125.3 418.0,127.8 425.0,128.8 431.0,129.6 436.0,132.4 450.0,129.8 451.0,124.2 464.0,125.7" fill="none" stroke="#41b5ae" stroke-width="1.1" stroke-linejoin="round"/>
<polyline points="57.9,117.6 62.5,117.6 65.5,129.6 67.5,127.8 70.5,148.8 72.5,133.2 92.5,131.4 94.5,135.0 97.0,132.6 100.0,133.8 110.0,132.6 116.0,131.8 117.0,134.8 119.0,131.8 150.0,131.6 156.0,131.6 157.0,129.8 161.0,129.8 162.0,131.2 165.5,129.8 176.5,129.8 177.5,131.0 181.0,131.0 182.0,129.8 190.0,129.8 191.0,131.0 210.0,130.4 211.5,129.8 212.5,128.3 217.0,128.3 219.5,125.0 221.0,126.8 230.0,126.8 235.5,123.3 242.0,125.8 244.0,123.8 246.0,125.8 249.0,122.8 250.0,125.8 256.0,125.6 258.0,122.8 259.5,120.8 261.0,123.8 264.0,124.8 265.0,122.3 266.0,124.3 267.5,122.6 269.0,124.8 271.0,122.3 272.0,124.8 280.0,126.0 283.0,126.0 283.5,122.3 285.0,125.2 288.0,124.3 289.5,119.2 291.0,123.4 293.5,118.6 295.0,121.6 300.0,122.2 301.0,118.0 302.5,121.0 303.0,117.4 305.0,121.6 310.0,123.4 313.0,121.6 314.0,117.4 316.0,121.6 318.0,116.8 320.0,121.6 323.0,121.0 325.5,116.2 328.0,121.0 335.0,122.8 342.5,125.2 344.0,116.4 347.0,121.2 350.0,115.6 352.0,120.4 356.0,119.8 377.0,124.7 377.5,129.2 396.0,129.2 399.0,125.7 401.5,117.6 403.0,121.3 405.0,122.8 408.0,123.5 410.0,122.8 412.0,124.2 414.0,125.0 418.0,127.2 425.0,127.9 431.0,128.7 434.0,130.2 436.0,131.6 450.0,130.2 451.0,126.5 464.0,127.2" fill="none" stroke="#5e1fae" stroke-width="1.1" stroke-linejoin="round"/>
<polyline points="57.9,111.2 62.5,111.2 64.0,119.4 65.5,125.4 67.5,121.8 68.5,120.6 70.5,143.4 72.5,120.6 74.0,119.4 92.5,117.2 94.5,123.6 96.0,119.4 100.0,121.2 102.0,120.0 110.0,119.2 116.0,118.8 117.0,123.8 119.0,119.8 150.0,118.4 156.0,118.4 157.0,116.2 161.0,116.2 162.0,118.4 164.0,117.8 165.5,116.2 176.5,116.2 177.5,118.0 181.0,118.0 182.0,116.2 190.0,116.2 191.0,118.0 195.0,117.8 200.0,117.2 210.0,116.8 211.5,116.5 217.0,116.0 219.0,114.3 221.0,115.0 230.0,115.3 231.0,114.3 235.0,114.0 235.5,112.3 242.0,114.0 244.0,112.8 246.0,113.8 249.0,112.3 250.0,113.8 256.0,114.0 257.5,112.8 259.5,110.8 261.0,112.3 262.0,111.6 264.0,112.6 265.0,111.8 266.0,112.8 267.5,112.3 269.0,113.3 271.0,112.6 272.0,113.8 280.0,113.8 283.0,113.8 283.5,111.8 285.0,113.8 288.0,113.2 289.5,110.2 291.0,112.6 293.5,109.0 295.0,110.8 300.0,112.0 301.0,109.6 302.5,110.6 303.0,108.4 305.0,111.4 310.0,112.6 313.0,111.4 314.0,109.0 316.0,110.8 318.0,108.4 320.0,111.4 323.0,110.8 325.5,107.2 328.0,110.8 335.0,112.2 342.5,113.8 344.0,106.5 347.0,109.2 350.0,106.5 352.0,110.3 356.0,110.0 377.0,115.6 377.5,116.8 396.0,116.8 400.0,111.7 401.5,108.0 403.0,109.5 405.0,112.4 408.0,113.9 412.0,115.4 414.0,116.8 416.0,119.1 418.0,120.6 421.0,119.8 423.0,121.3 427.0,122.0 431.0,122.3 433.0,123.8 436.0,125.7 450.0,125.7 451.0,123.5 453.0,125.0 464.0,126.5" fill="none" stroke="#d42a36" stroke-width="1.1" stroke-linejoin="round"/>
<rect x="355.4" y="13.4" width="133.9" height="49.2" fill="#fff"/>
<line x1="400.0" y1="13.4" x2="400.0" y2="62.6" stroke="#d9d9d9" stroke-width="0.8"/>
<line x1="444.7" y1="13.4" x2="444.7" y2="62.6" stroke="#d9d9d9" stroke-width="0.8"/>
<line x1="355.4" y1="38" x2="489.3" y2="38" stroke="#d9d9d9" stroke-width="0.8"/>
<line x1="368.8" y1="62.6" x2="368.8" y2="63.8" stroke="#bbb" stroke-width="0.6"/>
<line x1="376.7" y1="62.6" x2="376.7" y2="63.8" stroke="#bbb" stroke-width="0.6"/>
<line x1="382.3" y1="62.6" x2="382.3" y2="63.8" stroke="#bbb" stroke-width="0.6"/>
<line x1="386.6" y1="62.6" x2="386.6" y2="63.8" stroke="#bbb" stroke-width="0.6"/>
<line x1="390.1" y1="62.6" x2="390.1" y2="63.8" stroke="#bbb" stroke-width="0.6"/>
<line x1="393.1" y1="62.6" x2="393.1" y2="63.8" stroke="#bbb" stroke-width="0.6"/>
<line x1="395.7" y1="62.6" x2="395.7" y2="63.8" stroke="#bbb" stroke-width="0.6"/>
<line x1="398.0" y1="62.6" x2="398.0" y2="63.8" stroke="#bbb" stroke-width="0.6"/>
<line x1="413.5" y1="62.6" x2="413.5" y2="63.8" stroke="#bbb" stroke-width="0.6"/>
<line x1="421.3" y1="62.6" x2="421.3" y2="63.8" stroke="#bbb" stroke-width="0.6"/>
<line x1="426.9" y1="62.6" x2="426.9" y2="63.8" stroke="#bbb" stroke-width="0.6"/>
<line x1="431.2" y1="62.6" x2="431.2" y2="63.8" stroke="#bbb" stroke-width="0.6"/>
<line x1="434.8" y1="62.6" x2="434.8" y2="63.8" stroke="#bbb" stroke-width="0.6"/>
<line x1="437.8" y1="62.6" x2="437.8" y2="63.8" stroke="#bbb" stroke-width="0.6"/>
<line x1="440.3" y1="62.6" x2="440.3" y2="63.8" stroke="#bbb" stroke-width="0.6"/>
<line x1="442.6" y1="62.6" x2="442.6" y2="63.8" stroke="#bbb" stroke-width="0.6"/>
<line x1="458.1" y1="62.6" x2="458.1" y2="63.8" stroke="#bbb" stroke-width="0.6"/>
<line x1="466.0" y1="62.6" x2="466.0" y2="63.8" stroke="#bbb" stroke-width="0.6"/>
<line x1="471.5" y1="62.6" x2="471.5" y2="63.8" stroke="#bbb" stroke-width="0.6"/>
<line x1="475.9" y1="62.6" x2="475.9" y2="63.8" stroke="#bbb" stroke-width="0.6"/>
<line x1="479.4" y1="62.6" x2="479.4" y2="63.8" stroke="#bbb" stroke-width="0.6"/>
<line x1="482.4" y1="62.6" x2="482.4" y2="63.8" stroke="#bbb" stroke-width="0.6"/>
<line x1="485.0" y1="62.6" x2="485.0" y2="63.8" stroke="#bbb" stroke-width="0.6"/>
<line x1="487.3" y1="62.6" x2="487.3" y2="63.8" stroke="#bbb" stroke-width="0.6"/>
<polyline points="355.4,62.3 356.5,62.3 357.6,62.3 358.7,62.3 359.9,62.3 361.0,62.3 362.1,62.3 363.2,62.3 364.3,62.3 365.4,62.3 366.6,62.3 367.7,62.3 368.8,62.2 369.9,62.2 371.0,62.2 372.1,62.2 373.3,62.2 374.4,62.2 375.5,62.2 376.6,62.2 377.7,62.1 378.8,62.1 379.9,62.1 381.1,62.1 382.2,62.1 383.3,62.1 384.4,62.0 385.5,62.0 386.6,62.0 387.8,62.0 388.9,62.0 390.0,61.9 391.1,61.9 392.2,61.9 393.3,61.9 394.5,61.8 395.6,61.8 396.7,61.8 397.8,61.8 398.9,61.7 400.0,61.7 401.1,61.7 402.3,61.6 403.4,61.6 404.5,61.6 405.6,61.5 406.7,61.4 407.8,61.4 409.0,61.3 410.1,61.2 411.2,61.2 412.3,61.1 413.4,61.0 414.5,60.9 415.7,60.8 416.8,60.7 417.9,60.6 419.0,60.5 420.1,60.4 421.2,60.3 422.4,60.1 423.5,60.0 424.6,59.8 425.7,59.6 426.8,59.4 427.9,59.2 429.0,59.0 430.2,58.8 431.3,58.6 432.4,58.3 433.5,58.1 434.6,57.8 435.7,57.5 436.9,57.2 438.0,56.9 439.1,56.6 440.2,56.3 441.3,56.0 442.4,55.7 443.6,55.3 444.7,55.0 445.8,54.6 446.9,54.2 448.0,53.8 449.1,53.3 450.2,52.8 451.4,52.2 452.5,51.7 453.6,51.1 454.7,50.5 455.8,49.8 456.9,49.1 458.1,48.2 459.2,47.3 460.3,46.4 461.4,45.6 462.5,44.7 463.6,43.9 464.8,43.2 465.9,42.4 467.0,41.6 468.1,40.9 469.2,40.2 470.3,39.4 471.4,38.7 472.6,38.0 473.7,37.3 474.8,36.6 475.9,35.9 477.0,35.2 478.1,34.4 479.3,33.7 480.4,32.7 481.5,31.7 482.6,30.6 483.7,29.7 484.8,29.0 486.0,28.6 487.1,28.4 488.2,28.2 489.3,28.2" fill="none" stroke="#3aa2ff" stroke-width="1.35" stroke-linejoin="round"/>
<polyline points="355.4,62.4 356.5,62.4 357.6,62.4 358.7,62.3 359.9,62.3 361.0,62.3 362.1,62.3 363.2,62.3 364.3,62.3 365.4,62.3 366.6,62.3 367.7,62.3 368.8,62.3 369.9,62.3 371.0,62.3 372.1,62.2 373.3,62.2 374.4,62.2 375.5,62.2 376.6,62.2 377.7,62.1 378.8,62.1 379.9,62.1 381.1,62.1 382.2,62.1 383.3,62.0 384.4,62.0 385.5,62.0 386.6,62.0 387.8,61.9 388.9,61.9 390.0,61.9 391.1,61.9 392.2,61.8 393.3,61.8 394.5,61.8 395.6,61.7 396.7,61.7 397.8,61.7 398.9,61.6 400.0,61.6 401.1,61.6 402.3,61.5 403.4,61.5 404.5,61.4 405.6,61.4 406.7,61.3 407.8,61.2 409.0,61.2 410.1,61.1 411.2,61.0 412.3,60.9 413.4,60.8 414.5,60.7 415.7,60.6 416.8,60.5 417.9,60.4 419.0,60.2 420.1,60.1 421.2,60.0 422.4,59.8 423.5,59.7 424.6,59.5 425.7,59.3 426.8,59.1 427.9,58.9 429.0,58.7 430.2,58.4 431.3,58.2 432.4,57.9 433.5,57.7 434.6,57.4 435.7,57.1 436.9,56.8 438.0,56.4 439.1,56.1 440.2,55.7 441.3,55.4 442.4,55.0 443.6,54.6 444.7,54.2 445.8,53.8 446.9,53.3 448.0,52.7 449.1,52.1 450.2,51.4 451.4,50.7 452.5,50.0 453.6,49.3 454.7,48.5 455.8,47.8 456.9,47.0 458.1,46.1 459.2,45.3 460.3,44.4 461.4,43.6 462.5,42.7 463.6,42.0 464.8,41.2 465.9,40.5 467.0,39.8 468.1,39.0 469.2,38.3 470.3,37.6 471.4,36.9 472.6,36.3 473.7,35.6 474.8,35.0 475.9,34.3 477.0,33.6 478.1,33.0 479.3,32.2 480.4,31.4 481.5,30.6 482.6,29.7 483.7,28.9 484.8,28.1 486.0,27.6 487.1,27.1 488.2,26.7 489.3,26.4" fill="none" stroke="#41b5ae" stroke-width="1.35" stroke-linejoin="round"/>
<polyline points="355.4,62.5 356.5,62.5 357.6,62.5 358.7,62.4 359.9,62.4 361.0,62.4 362.1,62.4 363.2,62.4 364.3,62.4 365.4,62.4 366.6,62.4 367.7,62.4 368.8,62.4 369.9,62.4 371.0,62.4 372.1,62.4 373.3,62.3 374.4,62.3 375.5,62.3 376.6,62.3 377.7,62.3 378.8,62.3 379.9,62.3 381.1,62.2 382.2,62.2 383.3,62.2 384.4,62.2 385.5,62.2 386.6,62.1 387.8,62.1 388.9,62.1 390.0,62.1 391.1,62.1 392.2,62.0 393.3,62.0 394.5,62.0 395.6,62.0 396.7,61.9 397.8,61.9 398.9,61.9 400.0,61.9 401.1,61.8 402.3,61.8 403.4,61.8 404.5,61.7 405.6,61.7 406.7,61.6 407.8,61.5 409.0,61.5 410.1,61.4 411.2,61.3 412.3,61.3 413.4,61.2 414.5,61.1 415.7,61.0 416.8,60.9 417.9,60.8 419.0,60.7 420.1,60.6 421.2,60.5 422.4,60.4 423.5,60.2 424.6,60.1 425.7,59.9 426.8,59.8 427.9,59.6 429.0,59.4 430.2,59.2 431.3,59.0 432.4,58.7 433.5,58.5 434.6,58.3 435.7,58.0 436.9,57.8 438.0,57.5 439.1,57.2 440.2,57.0 441.3,56.7 442.4,56.4 443.6,56.1 444.7,55.8 445.8,55.5 446.9,55.2 448.0,54.8 449.1,54.5 450.2,54.1 451.4,53.7 452.5,53.2 453.6,52.7 454.7,52.2 455.8,51.6 456.9,50.8 458.1,50.0 459.2,49.1 460.3,48.2 461.4,47.2 462.5,46.3 463.6,45.5 464.8,44.7 465.9,44.0 467.0,43.2 468.1,42.4 469.2,41.7 470.3,40.9 471.4,40.2 472.6,39.4 473.7,38.8 474.8,38.1 475.9,37.4 477.0,36.6 478.1,35.9 479.3,35.0 480.4,34.0 481.5,32.9 482.6,31.8 483.7,30.6 484.8,29.5 486.0,28.6 487.1,27.8 488.2,27.1 489.3,26.4" fill="none" stroke="#5e1fae" stroke-width="1.35" stroke-linejoin="round"/>
<polyline points="355.4,62.5 356.5,62.5 357.6,62.5 358.7,62.5 359.9,62.4 361.0,62.4 362.1,62.4 363.2,62.4 364.3,62.4 365.4,62.4 366.6,62.4 367.7,62.4 368.8,62.4 369.9,62.4 371.0,62.4 372.1,62.4 373.3,62.4 374.4,62.4 375.5,62.4 376.6,62.4 377.7,62.4 378.8,62.3 379.9,62.3 381.1,62.3 382.2,62.3 383.3,62.3 384.4,62.3 385.5,62.3 386.6,62.3 387.8,62.3 388.9,62.2 390.0,62.2 391.1,62.2 392.2,62.2 393.3,62.2 394.5,62.2 395.6,62.2 396.7,62.2 397.8,62.1 398.9,62.1 400.0,62.1 401.1,62.1 402.3,62.1 403.4,62.0 404.5,62.0 405.6,62.0 406.7,62.0 407.8,61.9 409.0,61.9 410.1,61.9 411.2,61.8 412.3,61.8 413.4,61.7 414.5,61.7 415.7,61.6 416.8,61.6 417.9,61.5 419.0,61.5 420.1,61.4 421.2,61.3 422.4,61.3 423.5,61.2 424.6,61.1 425.7,61.0 426.8,60.9 427.9,60.8 429.0,60.6 430.2,60.5 431.3,60.4 432.4,60.3 433.5,60.1 434.6,60.0 435.7,59.9 436.9,59.7 438.0,59.6 439.1,59.5 440.2,59.4 441.3,59.3 442.4,59.2 443.6,59.1 444.7,59.0 445.8,58.9 446.9,58.9 448.0,58.8 449.1,58.8 450.2,58.7 451.4,58.6 452.5,58.6 453.6,58.5 454.7,58.4 455.8,58.4 456.9,58.3 458.1,58.2 459.2,58.1 460.3,58.0 461.4,57.9 462.5,57.7 463.6,57.6 464.8,57.4 465.9,57.2 467.0,57.0 468.1,56.7 469.2,56.3 470.3,55.9 471.4,55.4 472.6,54.5 473.7,53.3 474.8,51.9 475.9,50.3 477.0,48.4 478.1,46.2 479.3,43.9 480.4,41.2 481.5,38.2 482.6,35.4 483.7,32.6 484.8,29.8 486.0,27.1 487.1,24.6 488.2,22.2 489.3,19.8" fill="none" stroke="#d42a36" stroke-width="1.35" stroke-linejoin="round"/>
<rect x="355.4" y="13.4" width="133.9" height="49.2" fill="none" stroke="#8a8a8a" stroke-width="1"/>
<line x1="353.0" y1="13.4" x2="355.4" y2="13.4" stroke="#8a8a8a" stroke-width="0.8"/>
<text x="352.1" y="17.0" text-anchor="end" style="font-family:'Liberation Serif',serif;font-size:10.5px" fill="#222">1.0</text>
<line x1="353.0" y1="38.0" x2="355.4" y2="38.0" stroke="#8a8a8a" stroke-width="0.8"/>
<text x="352.1" y="41.6" text-anchor="end" style="font-family:'Liberation Serif',serif;font-size:10.5px" fill="#222">0.5</text>
<line x1="353.0" y1="62.6" x2="355.4" y2="62.6" stroke="#8a8a8a" stroke-width="0.8"/>
<text x="352.1" y="66.2" text-anchor="end" style="font-family:'Liberation Serif',serif;font-size:10.5px" fill="#222">0.0</text>
<line x1="355.4" y1="62.6" x2="355.4" y2="65.0" stroke="#8a8a8a" stroke-width="0.8"/>
<text x="348.5" y="76.2" style="font-family:'Liberation Serif',serif;font-size:10.4px" fill="#222">10<tspan dy="-5.2" dx="-0.3" font-size="7.6px">0</tspan></text>
<line x1="400.0" y1="62.6" x2="400.0" y2="65.0" stroke="#8a8a8a" stroke-width="0.8"/>
<text x="393.1" y="76.2" style="font-family:'Liberation Serif',serif;font-size:10.4px" fill="#222">10<tspan dy="-5.2" dx="-0.3" font-size="7.6px">1</tspan></text>
<line x1="444.7" y1="62.6" x2="444.7" y2="65.0" stroke="#8a8a8a" stroke-width="0.8"/>
<text x="437.8" y="76.2" style="font-family:'Liberation Serif',serif;font-size:10.4px" fill="#222">10<tspan dy="-5.2" dx="-0.3" font-size="7.6px">2</tspan></text>
<line x1="489.3" y1="62.6" x2="489.3" y2="65.0" stroke="#8a8a8a" stroke-width="0.8"/>
<text x="482.4" y="76.2" style="font-family:'Liberation Serif',serif;font-size:10.4px" fill="#222">10<tspan dy="-5.2" dx="-0.3" font-size="7.6px">3</tspan></text>
<text x="422.4" y="88.4" text-anchor="middle" style="font-family:'Liberation Serif',serif;font-size:10.3px" fill="#222">Age [days]</text>
<text transform="translate(335.3,38.6) rotate(-90)" text-anchor="middle" style="font-family:'Liberation Serif',serif;font-size:10.4px" fill="#222">eCDF [-]</text>
</g>
<g transform="translate(0,477.0)">
<path d="M38.2,18.4 V184.5 H484" fill="none" stroke="#a3a3a3" stroke-width="1.2"/>
<line x1="36" y1="60.0" x2="38.2" y2="60.0" stroke="#a3a3a3" stroke-width="1"/>
<text transform="translate(34.3,63.9) scale(0.96,1.06)" text-anchor="end" style="font-family:'Liberation Serif',serif;font-size:10.5px" fill="#222" stroke="#222" stroke-width="0.08">−40</text>
<line x1="36" y1="101.5" x2="38.2" y2="101.5" stroke="#a3a3a3" stroke-width="1"/>
<text transform="translate(34.3,105.4) scale(0.96,1.06)" text-anchor="end" style="font-family:'Liberation Serif',serif;font-size:10.5px" fill="#222" stroke="#222" stroke-width="0.08">−50</text>
<line x1="36" y1="143.0" x2="38.2" y2="143.0" stroke="#a3a3a3" stroke-width="1"/>
<text transform="translate(34.3,146.9) scale(0.96,1.06)" text-anchor="end" style="font-family:'Liberation Serif',serif;font-size:10.5px" fill="#222" stroke="#222" stroke-width="0.08">−60</text>
<line x1="36" y1="184.5" x2="38.2" y2="184.5" stroke="#a3a3a3" stroke-width="1"/>
<text transform="translate(34.3,188.4) scale(0.96,1.06)" text-anchor="end" style="font-family:'Liberation Serif',serif;font-size:10.5px" fill="#222" stroke="#222" stroke-width="0.08">−70</text>
<line x1="58.0" y1="184.5" x2="58.0" y2="186.5" stroke="#a3a3a3" stroke-width="1"/>
<text transform="translate(58.0,195.9) scale(0.97,1.05)" text-anchor="middle" style="font-family:'Liberation Serif',serif;font-size:10.2px" fill="#222" stroke="#222" stroke-width="0.08">2011-01</text>
<line x1="118.6" y1="184.5" x2="118.6" y2="186.5" stroke="#a3a3a3" stroke-width="1"/>
<text transform="translate(118.6,195.9) scale(0.97,1.05)" text-anchor="middle" style="font-family:'Liberation Serif',serif;font-size:10.2px" fill="#222" stroke="#222" stroke-width="0.08">2011-03</text>
<line x1="181.5" y1="184.5" x2="181.5" y2="186.5" stroke="#a3a3a3" stroke-width="1"/>
<text transform="translate(181.5,195.9) scale(0.97,1.05)" text-anchor="middle" style="font-family:'Liberation Serif',serif;font-size:10.2px" fill="#222" stroke="#222" stroke-width="0.08">2011-05</text>
<line x1="243.9" y1="184.5" x2="243.9" y2="186.5" stroke="#a3a3a3" stroke-width="1"/>
<text transform="translate(243.9,195.9) scale(0.97,1.05)" text-anchor="middle" style="font-family:'Liberation Serif',serif;font-size:10.2px" fill="#222" stroke="#222" stroke-width="0.08">2011-07</text>
<line x1="307.6" y1="184.5" x2="307.6" y2="186.5" stroke="#a3a3a3" stroke-width="1"/>
<text transform="translate(307.6,195.9) scale(0.97,1.05)" text-anchor="middle" style="font-family:'Liberation Serif',serif;font-size:10.2px" fill="#222" stroke="#222" stroke-width="0.08">2011-09</text>
<line x1="370.3" y1="184.5" x2="370.3" y2="186.5" stroke="#a3a3a3" stroke-width="1"/>
<text transform="translate(370.3,195.9) scale(0.97,1.05)" text-anchor="middle" style="font-family:'Liberation Serif',serif;font-size:10.2px" fill="#222" stroke="#222" stroke-width="0.08">2011-11</text>
<line x1="433.0" y1="184.5" x2="433.0" y2="186.5" stroke="#a3a3a3" stroke-width="1"/>
<text transform="translate(433.0,195.9) scale(0.97,1.05)" text-anchor="middle" style="font-family:'Liberation Serif',serif;font-size:10.2px" fill="#222" stroke="#222" stroke-width="0.08">2012-01</text>
<text x="60.2" y="33.8" style="font-family:'Liberation Serif',serif;font-size:10.2px" fill="#222">c)</text>
<text transform="translate(15.2,102.3) rotate(-90)" text-anchor="middle" style="font-family:'Liberation Sans',sans-serif;font-size:12.6px" fill="#222"><tspan font-style="italic" font-size="11.6px">δ</tspan><tspan dy="-4.6" dx="0.7" font-size="7.8px">2</tspan><tspan dy="4.6" dx="0.3" font-style="italic" font-size="11.2px">H</tspan><tspan dx="4.0" dy="-1.2" font-size="10px">[</tspan><tspan dy="1.2" dx="0.5" font-size="13.8px">‰</tspan><tspan dx="0.6" dy="-1.2" font-size="10px">]</tspan></text>
<text x="213.2" y="14.9" style="font-family:'Liberation Sans',sans-serif;font-size:13.8px" fill="#222" font-style="italic">S</text>
<text x="222.1" y="16.3" style="font-family:'Liberation Sans',sans-serif;font-size:9.2px" fill="#222" font-style="italic">s, p</text>
<text x="239.3" y="14.9" style="font-family:'Liberation Sans',sans-serif;font-size:14px" fill="#222">=</text>
<text x="250.1" y="14.9" style="font-family:'Liberation Sans',sans-serif;font-size:13.8px" fill="#222">5000</text>
<text x="284.5" y="14.9" style="font-family:'Liberation Sans',sans-serif;font-size:13.8px" fill="#222" font-style="italic">mm</text>
<circle cx="61.4" cy="113.6" r="1.85" fill="#10253f"/>
<circle cx="67.6" cy="120.6" r="1.85" fill="#10253f"/>
<circle cx="74.6" cy="124.0" r="1.85" fill="#10253f"/>
<circle cx="82.0" cy="118.6" r="1.85" fill="#10253f"/>
<circle cx="89.2" cy="119.0" r="1.85" fill="#10253f"/>
<circle cx="97.2" cy="118.6" r="1.85" fill="#10253f"/>
<circle cx="103.4" cy="116.4" r="1.85" fill="#10253f"/>
<circle cx="110.4" cy="113.2" r="1.85" fill="#10253f"/>
<circle cx="119.0" cy="117.4" r="1.85" fill="#10253f"/>
<circle cx="127.0" cy="119.8" r="1.85" fill="#10253f"/>
<circle cx="132.0" cy="119.4" r="1.85" fill="#10253f"/>
<circle cx="139.4" cy="112.0" r="1.85" fill="#10253f"/>
<circle cx="146.6" cy="115.6" r="1.85" fill="#10253f"/>
<circle cx="153.6" cy="112.6" r="1.85" fill="#10253f"/>
<circle cx="161.0" cy="117.0" r="1.85" fill="#10253f"/>
<circle cx="168.0" cy="109.0" r="1.85" fill="#10253f"/>
<circle cx="176.4" cy="114.0" r="1.85" fill="#10253f"/>
<circle cx="182.4" cy="110.2" r="1.85" fill="#10253f"/>
<circle cx="189.4" cy="112.2" r="1.85" fill="#10253f"/>
<circle cx="197.0" cy="115.2" r="1.85" fill="#10253f"/>
<circle cx="204.0" cy="109.8" r="1.85" fill="#10253f"/>
<circle cx="211.0" cy="110.6" r="1.85" fill="#10253f"/>
<circle cx="218.6" cy="109.8" r="1.85" fill="#10253f"/>
<circle cx="226.4" cy="111.4" r="1.85" fill="#10253f"/>
<circle cx="232.6" cy="107.6" r="1.85" fill="#10253f"/>
<circle cx="240.0" cy="111.0" r="1.85" fill="#10253f"/>
<circle cx="247.4" cy="109.6" r="1.85" fill="#10253f"/>
<circle cx="254.4" cy="106.6" r="1.85" fill="#10253f"/>
<circle cx="261.6" cy="109.0" r="1.85" fill="#10253f"/>
<circle cx="268.6" cy="116.6" r="1.85" fill="#10253f"/>
<circle cx="276.0" cy="112.4" r="1.85" fill="#10253f"/>
<circle cx="283.0" cy="109.6" r="1.85" fill="#10253f"/>
<circle cx="290.4" cy="107.0" r="1.85" fill="#10253f"/>
<circle cx="297.4" cy="113.0" r="1.85" fill="#10253f"/>
<circle cx="304.6" cy="105.6" r="1.85" fill="#10253f"/>
<circle cx="311.6" cy="108.0" r="1.85" fill="#10253f"/>
<circle cx="319.0" cy="103.0" r="1.85" fill="#10253f"/>
<circle cx="326.4" cy="104.0" r="1.85" fill="#10253f"/>
<circle cx="333.4" cy="110.4" r="1.85" fill="#10253f"/>
<circle cx="341.4" cy="111.8" r="1.85" fill="#10253f"/>
<circle cx="347.8" cy="104.9" r="1.85" fill="#10253f"/>
<circle cx="355.0" cy="106.5" r="1.85" fill="#10253f"/>
<circle cx="362.2" cy="105.7" r="1.85" fill="#10253f"/>
<circle cx="376.6" cy="106.7" r="1.85" fill="#10253f"/>
<circle cx="383.8" cy="111.0" r="1.85" fill="#10253f"/>
<circle cx="390.7" cy="114.2" r="1.85" fill="#10253f"/>
<circle cx="398.2" cy="109.4" r="1.85" fill="#10253f"/>
<circle cx="406.2" cy="108.1" r="1.85" fill="#10253f"/>
<circle cx="412.3" cy="116.1" r="1.85" fill="#10253f"/>
<circle cx="433.9" cy="123.3" r="1.85" fill="#10253f"/>
<circle cx="441.3" cy="123.6" r="1.85" fill="#10253f"/>
<circle cx="448.3" cy="124.4" r="1.85" fill="#10253f"/>
<circle cx="455.5" cy="114.5" r="1.85" fill="#10253f"/>
<circle cx="462.7" cy="123.3" r="1.85" fill="#10253f"/>
<polyline points="57.9,112.0 62.5,112.0 63.5,121.0 63.6,170.8 64.5,145.0 65.5,155.2 66.5,124.6 67.5,119.8 69.0,124.6 69.5,149.8 70.5,154.6 72.0,142.6 73.0,122.8 74.0,123.0 76.5,137.8 78.0,122.0 93.0,120.0 94.2,135.4 96.0,120.0 99.0,132.4 101.0,121.0 103.5,130.6 105.0,120.0 110.0,119.0 116.0,120.0 116.6,154.0 118.0,120.0 145.0,118.5 145.5,116.9 150.0,117.1 156.0,117.1 156.5,115.5 157.0,114.5 161.0,114.5 162.0,116.7 164.0,115.9 165.5,114.8 176.5,114.8 177.5,116.2 181.0,116.2 182.0,114.6 190.0,114.6 191.0,116.6 195.0,116.7 210.8,116.0 211.5,108.5 212.2,115.2 212.8,115.2 213.5,108.0 213.8,115.2 214.5,115.0 215.2,115.2 216.8,115.1 217.5,105.0 218.2,114.8 219.3,112.8 220.0,122.5 220.7,113.5 220.8,113.6 221.5,121.0 222.2,113.7 229.8,112.9 230.5,104.5 231.2,112.5 234.3,111.7 235.0,96.5 235.7,111.1 237.0,110.5 240.0,110.5 242.0,111.0 244.0,109.5 246.0,111.0 249.0,109.0 250.0,111.0 256.0,110.8 257.5,109.2 258.0,108.6 258.7,108.0 259.4,100.0 260.1,108.2 261.0,109.5 262.0,109.6 264.0,110.2 265.0,108.1 266.0,109.8 267.5,108.5 269.0,110.3 271.0,108.2 272.0,110.4 280.0,111.1 282.3,111.1 283.0,103.0 283.7,108.1 285.0,110.8 288.0,110.3 288.7,108.7 289.4,100.0 290.1,107.9 291.0,109.7 292.7,107.3 293.4,84.0 294.1,107.3 295.0,109.1 300.0,109.6 301.0,106.7 302.5,108.5 303.0,105.5 305.0,108.9 310.0,109.1 313.0,108.4 314.0,105.3 316.0,108.4 318.0,104.9 320.0,108.3 323.0,107.9 325.5,103.2 328.0,107.4 342.5,110.8 343.8,105.4 344.5,98.2 345.2,103.4 347.5,106.5 350.0,102.5 352.0,106.9 356.0,107.4 377.0,111.7 377.5,114.3 396.0,114.3 398.5,107.9 399.0,106.3 401.0,104.1 402.0,109.3 403.0,122.6 404.0,144.0 406.0,112.2 407.0,122.6 408.0,115.2 409.0,125.5 410.0,116.7 412.0,119.6 414.0,131.5 415.0,137.4 416.0,123.0 417.0,144.0 418.0,149.2 420.0,119.6 422.0,121.0 423.0,137.4 424.0,122.6 425.0,137.4 426.0,121.8 430.0,121.8 431.0,135.9 433.0,140.3 434.0,142.6 435.0,137.4 437.0,130.0 437.5,117.4 438.0,124.8 440.0,121.1 450.0,118.9 451.0,117.0 451.5,78.2 453.0,115.2 464.0,115.2" fill="none" stroke="#3aa2ff" stroke-width="1.1" stroke-linejoin="round"/>
<polyline points="57.9,113.2 62.5,113.2 64.0,121.0 66.0,128.8 68.0,123.0 70.5,141.0 72.5,125.8 75.0,125.8 93.0,124.0 94.0,128.2 96.0,124.0 110.0,123.4 116.0,123.0 117.0,125.0 119.0,123.0 145.0,121.8 150.0,122.0 156.0,122.0 157.0,119.5 161.0,119.5 162.0,122.0 165.5,120.0 176.5,120.0 177.5,121.5 181.0,121.5 182.0,120.0 190.0,120.0 191.0,122.0 200.0,121.5 211.0,120.5 212.0,119.8 218.0,118.8 219.5,117.0 221.0,117.5 230.0,117.5 235.0,115.0 237.0,114.0 240.0,114.5 240.5,115.1 242.0,115.8 244.0,113.9 246.0,116.0 249.0,113.4 250.0,116.0 256.0,115.3 257.5,112.9 258.0,112.2 259.5,111.4 261.0,114.5 262.0,116.1 264.0,116.0 265.0,111.8 266.0,114.6 267.5,111.8 269.0,115.1 271.0,110.7 272.0,114.4 280.0,116.3 283.0,116.3 283.5,111.1 285.0,116.8 288.0,116.6 289.5,110.9 291.0,114.5 293.5,110.3 295.0,113.7 300.0,114.7 301.0,111.1 302.5,112.8 303.0,109.6 305.0,113.7 310.0,112.8 313.0,112.9 314.0,108.9 316.0,112.7 318.0,108.1 320.0,112.6 323.0,111.9 325.5,105.9 328.0,110.8 342.5,114.3 344.5,105.3 347.5,109.4 350.0,105.3 352.0,110.2 356.0,110.8 377.0,115.6 377.5,118.5 396.0,118.2 398.5,110.0 399.0,112.2 401.0,105.6 405.0,112.2 410.0,115.2 416.0,120.4 420.0,120.4 430.0,121.8 436.0,123.3 450.0,121.1 451.0,117.4 464.0,117.4" fill="none" stroke="#41b5ae" stroke-width="1.1" stroke-linejoin="round"/>
<polyline points="57.9,112.0 62.5,112.0 64.0,121.0 66.0,126.4 68.0,121.0 70.5,144.4 73.0,122.8 75.0,121.0 93.0,118.6 94.0,124.6 96.0,120.0 99.5,121.0 101.0,123.0 103.0,120.0 110.0,119.8 116.0,119.0 117.0,123.0 119.0,119.0 145.0,117.8 150.0,118.0 156.0,118.0 157.0,115.5 161.0,115.5 162.0,117.5 165.5,115.8 176.5,115.8 177.5,117.0 181.0,117.0 182.0,115.5 190.0,115.5 191.0,117.5 195.0,117.5 211.0,116.8 212.0,116.0 218.0,116.0 219.5,113.0 221.0,114.5 230.0,113.5 235.0,112.0 237.0,111.0 240.0,111.0 242.0,111.5 244.0,110.0 246.0,111.5 249.0,109.5 250.0,111.5 256.0,111.3 258.0,109.0 259.5,107.8 261.0,110.0 264.0,110.8 265.0,108.5 266.0,110.3 267.5,108.8 269.0,110.8 271.0,108.5 272.0,110.8 280.0,111.6 283.0,111.6 283.5,108.0 285.0,111.4 288.0,111.0 289.5,107.2 291.0,110.2 293.5,106.6 295.0,109.6 300.0,110.2 301.0,107.2 302.5,109.0 303.0,106.0 305.0,109.5 310.0,109.6 313.0,109.0 314.0,105.8 316.0,109.0 318.0,105.4 320.0,109.0 323.0,108.5 325.5,103.6 328.0,108.0 342.5,111.4 344.5,103.0 347.5,107.0 350.0,103.0 352.0,107.5 356.0,108.0 377.0,112.4 377.5,115.1 396.0,115.1 399.0,107.0 401.0,104.8 403.0,107.8 405.0,110.8 410.0,113.0 414.0,114.4 416.0,116.7 420.0,117.4 425.0,117.4 430.0,118.1 433.0,119.6 436.0,121.1 440.0,119.6 450.0,118.4 451.0,116.0 464.0,116.0" fill="none" stroke="#5e1fae" stroke-width="1.1" stroke-linejoin="round"/>
<polyline points="57.9,110.8 62.5,110.8 64.0,121.6 66.0,125.2 67.5,119.8 68.5,119.2 70.5,142.6 72.5,118.0 75.0,117.4 92.5,114.4 94.0,121.6 96.0,116.2 99.5,117.2 100.5,118.0 103.0,116.0 110.0,113.8 116.0,115.0 117.0,119.0 119.0,116.0 145.0,113.3 150.0,113.5 156.0,113.5 156.5,110.5 161.0,110.5 162.0,113.5 164.0,113.0 165.5,110.5 176.5,110.5 177.5,112.5 181.0,112.5 182.0,110.5 190.0,110.5 191.0,112.5 195.0,113.0 211.0,112.0 212.0,111.2 218.0,110.5 219.5,109.5 221.0,110.0 230.0,109.2 235.0,108.5 237.0,107.5 240.0,108.0 242.0,108.2 244.0,107.0 246.0,108.0 249.0,106.5 250.0,108.0 256.0,108.2 257.5,107.0 259.5,105.0 261.0,106.5 262.0,105.8 264.0,106.8 265.0,106.0 266.0,107.0 267.5,106.5 269.0,107.5 271.0,106.8 272.0,108.0 280.0,108.0 283.0,108.0 283.5,105.6 285.0,107.2 288.0,106.5 289.5,104.2 291.0,106.6 293.5,103.4 295.0,106.0 300.0,106.0 301.0,103.6 302.5,105.4 303.0,102.6 305.0,105.4 310.0,106.2 313.0,104.8 314.0,102.4 316.0,104.8 318.0,102.2 320.0,104.6 323.0,104.2 325.5,100.6 328.0,104.2 342.5,107.2 344.5,99.7 347.5,103.6 350.0,99.7 352.0,103.6 356.0,104.0 377.0,107.6 377.5,110.0 396.0,110.0 399.0,104.8 401.0,100.4 403.0,102.6 405.0,109.3 408.0,110.8 412.0,111.5 414.0,112.2 416.0,113.7 418.0,112.2 421.0,112.2 423.0,113.7 430.0,113.7 432.0,114.4 433.0,116.0 434.0,116.7 436.0,116.0 440.0,114.9 450.0,113.7 451.0,111.5 464.0,111.5" fill="none" stroke="#d42a36" stroke-width="1.1" stroke-linejoin="round"/>
<rect x="355.4" y="13.4" width="133.9" height="49.2" fill="#fff"/>
<line x1="400.0" y1="13.4" x2="400.0" y2="62.6" stroke="#d9d9d9" stroke-width="0.8"/>
<line x1="444.7" y1="13.4" x2="444.7" y2="62.6" stroke="#d9d9d9" stroke-width="0.8"/>
<line x1="355.4" y1="38" x2="489.3" y2="38" stroke="#d9d9d9" stroke-width="0.8"/>
<line x1="368.8" y1="62.6" x2="368.8" y2="63.8" stroke="#bbb" stroke-width="0.6"/>
<line x1="376.7" y1="62.6" x2="376.7" y2="63.8" stroke="#bbb" stroke-width="0.6"/>
<line x1="382.3" y1="62.6" x2="382.3" y2="63.8" stroke="#bbb" stroke-width="0.6"/>
<line x1="386.6" y1="62.6" x2="386.6" y2="63.8" stroke="#bbb" stroke-width="0.6"/>
<line x1="390.1" y1="62.6" x2="390.1" y2="63.8" stroke="#bbb" stroke-width="0.6"/>
<line x1="393.1" y1="62.6" x2="393.1" y2="63.8" stroke="#bbb" stroke-width="0.6"/>
<line x1="395.7" y1="62.6" x2="395.7" y2="63.8" stroke="#bbb" stroke-width="0.6"/>
<line x1="398.0" y1="62.6" x2="398.0" y2="63.8" stroke="#bbb" stroke-width="0.6"/>
<line x1="413.5" y1="62.6" x2="413.5" y2="63.8" stroke="#bbb" stroke-width="0.6"/>
<line x1="421.3" y1="62.6" x2="421.3" y2="63.8" stroke="#bbb" stroke-width="0.6"/>
<line x1="426.9" y1="62.6" x2="426.9" y2="63.8" stroke="#bbb" stroke-width="0.6"/>
<line x1="431.2" y1="62.6" x2="431.2" y2="63.8" stroke="#bbb" stroke-width="0.6"/>
<line x1="434.8" y1="62.6" x2="434.8" y2="63.8" stroke="#bbb" stroke-width="0.6"/>
<line x1="437.8" y1="62.6" x2="437.8" y2="63.8" stroke="#bbb" stroke-width="0.6"/>
<line x1="440.3" y1="62.6" x2="440.3" y2="63.8" stroke="#bbb" stroke-width="0.6"/>
<line x1="442.6" y1="62.6" x2="442.6" y2="63.8" stroke="#bbb" stroke-width="0.6"/>
<line x1="458.1" y1="62.6" x2="458.1" y2="63.8" stroke="#bbb" stroke-width="0.6"/>
<line x1="466.0" y1="62.6" x2="466.0" y2="63.8" stroke="#bbb" stroke-width="0.6"/>
<line x1="471.5" y1="62.6" x2="471.5" y2="63.8" stroke="#bbb" stroke-width="0.6"/>
<line x1="475.9" y1="62.6" x2="475.9" y2="63.8" stroke="#bbb" stroke-width="0.6"/>
<line x1="479.4" y1="62.6" x2="479.4" y2="63.8" stroke="#bbb" stroke-width="0.6"/>
<line x1="482.4" y1="62.6" x2="482.4" y2="63.8" stroke="#bbb" stroke-width="0.6"/>
<line x1="485.0" y1="62.6" x2="485.0" y2="63.8" stroke="#bbb" stroke-width="0.6"/>
<line x1="487.3" y1="62.6" x2="487.3" y2="63.8" stroke="#bbb" stroke-width="0.6"/>
<polyline points="355.4,62.3 356.5,62.3 357.6,62.3 358.7,62.3 359.9,62.3 361.0,62.3 362.1,62.3 363.2,62.3 364.3,62.3 365.4,62.3 366.6,62.3 367.7,62.3 368.8,62.3 369.9,62.3 371.0,62.3 372.1,62.2 373.3,62.2 374.4,62.2 375.5,62.2 376.6,62.2 377.7,62.2 378.8,62.2 379.9,62.2 381.1,62.2 382.2,62.2 383.3,62.1 384.4,62.1 385.5,62.1 386.6,62.1 387.8,62.1 388.9,62.1 390.0,62.1 391.1,62.0 392.2,62.0 393.3,62.0 394.5,62.0 395.6,62.0 396.7,62.0 397.8,61.9 398.9,61.9 400.0,61.9 401.1,61.9 402.3,61.9 403.4,61.8 404.5,61.8 405.6,61.7 406.7,61.7 407.8,61.6 409.0,61.6 410.1,61.5 411.2,61.4 412.3,61.4 413.4,61.3 414.5,61.2 415.7,61.1 416.8,61.1 417.9,61.0 419.0,60.9 420.1,60.8 421.2,60.7 422.4,60.6 423.5,60.4 424.6,60.3 425.7,60.1 426.8,60.0 427.9,59.8 429.0,59.6 430.2,59.4 431.3,59.2 432.4,59.0 433.5,58.8 434.6,58.6 435.7,58.4 436.9,58.1 438.0,57.9 439.1,57.7 440.2,57.5 441.3,57.2 442.4,57.0 443.6,56.8 444.7,56.5 445.8,56.3 446.9,56.1 448.0,55.8 449.1,55.5 450.2,55.3 451.4,55.0 452.5,54.7 453.6,54.4 454.7,54.1 455.8,53.8 456.9,53.6 458.1,53.3 459.2,53.0 460.3,52.7 461.4,52.3 462.5,52.0 463.6,51.7 464.8,51.4 465.9,51.1 467.0,50.7 468.1,50.4 469.2,50.1 470.3,49.8 471.4,49.5 472.6,49.3 473.7,49.0 474.8,48.7 475.9,48.5 477.0,48.2 478.1,47.9 479.3,47.7 480.4,47.4 481.5,47.2 482.6,47.0 483.7,46.7 484.8,46.5 486.0,46.3 487.1,46.1 488.2,45.8 489.3,45.6" fill="none" stroke="#3aa2ff" stroke-width="1.35" stroke-linejoin="round"/>
<polyline points="355.4,62.4 356.5,62.4 357.6,62.4 358.7,62.4 359.9,62.3 361.0,62.3 362.1,62.3 363.2,62.3 364.3,62.3 365.4,62.3 366.6,62.3 367.7,62.3 368.8,62.3 369.9,62.3 371.0,62.3 372.1,62.3 373.3,62.3 374.4,62.3 375.5,62.2 376.6,62.2 377.7,62.2 378.8,62.2 379.9,62.2 381.1,62.2 382.2,62.2 383.3,62.2 384.4,62.1 385.5,62.1 386.6,62.1 387.8,62.1 388.9,62.1 390.0,62.0 391.1,62.0 392.2,62.0 393.3,62.0 394.5,62.0 395.6,61.9 396.7,61.9 397.8,61.9 398.9,61.9 400.0,61.9 401.1,61.8 402.3,61.8 403.4,61.8 404.5,61.7 405.6,61.7 406.7,61.6 407.8,61.6 409.0,61.5 410.1,61.4 411.2,61.4 412.3,61.3 413.4,61.2 414.5,61.1 415.7,61.1 416.8,61.0 417.9,60.9 419.0,60.8 420.1,60.7 421.2,60.6 422.4,60.4 423.5,60.3 424.6,60.1 425.7,60.0 426.8,59.8 427.9,59.6 429.0,59.4 430.2,59.2 431.3,59.0 432.4,58.8 433.5,58.6 434.6,58.4 435.7,58.2 436.9,57.9 438.0,57.7 439.1,57.4 440.2,57.2 441.3,56.9 442.4,56.7 443.6,56.5 444.7,56.2 445.8,55.9 446.9,55.7 448.0,55.4 449.1,55.1 450.2,54.8 451.4,54.5 452.5,54.1 453.6,53.8 454.7,53.5 455.8,53.2 456.9,52.8 458.1,52.5 459.2,52.1 460.3,51.8 461.4,51.4 462.5,51.1 463.6,50.7 464.8,50.3 465.9,50.0 467.0,49.6 468.1,49.2 469.2,48.8 470.3,48.5 471.4,48.1 472.6,47.8 473.7,47.4 474.8,47.1 475.9,46.7 477.0,46.4 478.1,46.0 479.3,45.7 480.4,45.4 481.5,45.0 482.6,44.7 483.7,44.3 484.8,44.0 486.0,43.7 487.1,43.3 488.2,43.0 489.3,42.7" fill="none" stroke="#41b5ae" stroke-width="1.35" stroke-linejoin="round"/>
<polyline points="355.4,62.5 356.5,62.5 357.6,62.5 358.7,62.4 359.9,62.4 361.0,62.4 362.1,62.4 363.2,62.4 364.3,62.4 365.4,62.4 366.6,62.4 367.7,62.4 368.8,62.4 369.9,62.4 371.0,62.4 372.1,62.4 373.3,62.4 374.4,62.4 375.5,62.4 376.6,62.3 377.7,62.3 378.8,62.3 379.9,62.3 381.1,62.3 382.2,62.3 383.3,62.3 384.4,62.3 385.5,62.2 386.6,62.2 387.8,62.2 388.9,62.2 390.0,62.2 391.1,62.2 392.2,62.1 393.3,62.1 394.5,62.1 395.6,62.1 396.7,62.1 397.8,62.1 398.9,62.0 400.0,62.0 401.1,62.0 402.3,62.0 403.4,61.9 404.5,61.9 405.6,61.8 406.7,61.8 407.8,61.7 409.0,61.7 410.1,61.6 411.2,61.5 412.3,61.5 413.4,61.4 414.5,61.3 415.7,61.2 416.8,61.1 417.9,61.1 419.0,61.0 420.1,60.9 421.2,60.8 422.4,60.7 423.5,60.5 424.6,60.4 425.7,60.2 426.8,60.1 427.9,59.9 429.0,59.8 430.2,59.6 431.3,59.4 432.4,59.2 433.5,59.0 434.6,58.8 435.7,58.6 436.9,58.4 438.0,58.2 439.1,58.0 440.2,57.8 441.3,57.6 442.4,57.4 443.6,57.1 444.7,56.9 445.8,56.7 446.9,56.5 448.0,56.3 449.1,56.0 450.2,55.8 451.4,55.5 452.5,55.3 453.6,55.0 454.7,54.8 455.8,54.5 456.9,54.3 458.1,54.0 459.2,53.8 460.3,53.5 461.4,53.3 462.5,53.0 463.6,52.8 464.8,52.5 465.9,52.3 467.0,52.0 468.1,51.8 469.2,51.5 470.3,51.3 471.4,51.0 472.6,50.7 473.7,50.5 474.8,50.2 475.9,50.0 477.0,49.7 478.1,49.5 479.3,49.2 480.4,48.9 481.5,48.7 482.6,48.4 483.7,48.2 484.8,47.9 486.0,47.6 487.1,47.4 488.2,47.1 489.3,46.9" fill="none" stroke="#5e1fae" stroke-width="1.35" stroke-linejoin="round"/>
<polyline points="355.4,62.5 356.5,62.5 357.6,62.5 358.7,62.5 359.9,62.4 361.0,62.4 362.1,62.4 363.2,62.4 364.3,62.4 365.4,62.4 366.6,62.4 367.7,62.4 368.8,62.4 369.9,62.4 371.0,62.4 372.1,62.4 373.3,62.4 374.4,62.4 375.5,62.4 376.6,62.4 377.7,62.4 378.8,62.4 379.9,62.4 381.1,62.4 382.2,62.4 383.3,62.3 384.4,62.3 385.5,62.3 386.6,62.3 387.8,62.3 388.9,62.3 390.0,62.3 391.1,62.3 392.2,62.3 393.3,62.3 394.5,62.3 395.6,62.2 396.7,62.2 397.8,62.2 398.9,62.2 400.0,62.2 401.1,62.2 402.3,62.2 403.4,62.2 404.5,62.2 405.6,62.1 406.7,62.1 407.8,62.1 409.0,62.1 410.1,62.0 411.2,62.0 412.3,62.0 413.4,62.0 414.5,61.9 415.7,61.9 416.8,61.8 417.9,61.8 419.0,61.8 420.1,61.7 421.2,61.6 422.4,61.6 423.5,61.5 424.6,61.4 425.7,61.3 426.8,61.1 427.9,61.0 429.0,60.9 430.2,60.8 431.3,60.6 432.4,60.5 433.5,60.3 434.6,60.1 435.7,60.0 436.9,59.8 438.0,59.5 439.1,59.3 440.2,59.1 441.3,58.9 442.4,58.7 443.6,58.6 444.7,58.4 445.8,58.3 446.9,58.1 448.0,58.0 449.1,57.8 450.2,57.7 451.4,57.5 452.5,57.4 453.6,57.3 454.7,57.2 455.8,57.1 456.9,57.0 458.1,57.0 459.2,57.0 460.3,56.9 461.4,56.9 462.5,56.9 463.6,56.8 464.8,56.8 465.9,56.8 467.0,56.7 468.1,56.7 469.2,56.7 470.3,56.7 471.4,56.7 472.6,56.7 473.7,56.7 474.8,56.7 475.9,56.7 477.0,56.7 478.1,56.7 479.3,56.7 480.4,56.7 481.5,56.7 482.6,56.7 483.7,56.7 484.8,56.7 486.0,56.7 487.1,56.7 488.2,56.7 489.3,56.7" fill="none" stroke="#d42a36" stroke-width="1.35" stroke-linejoin="round"/>
<rect x="355.4" y="13.4" width="133.9" height="49.2" fill="none" stroke="#8a8a8a" stroke-width="1"/>
<line x1="353.0" y1="13.4" x2="355.4" y2="13.4" stroke="#8a8a8a" stroke-width="0.8"/>
<text x="352.1" y="17.0" text-anchor="end" style="font-family:'Liberation Serif',serif;font-size:10.5px" fill="#222">1.0</text>
<line x1="353.0" y1="38.0" x2="355.4" y2="38.0" stroke="#8a8a8a" stroke-width="0.8"/>
<text x="352.1" y="41.6" text-anchor="end" style="font-family:'Liberation Serif',serif;font-size:10.5px" fill="#222">0.5</text>
<line x1="353.0" y1="62.6" x2="355.4" y2="62.6" stroke="#8a8a8a" stroke-width="0.8"/>
<text x="352.1" y="66.2" text-anchor="end" style="font-family:'Liberation Serif',serif;font-size:10.5px" fill="#222">0.0</text>
<line x1="355.4" y1="62.6" x2="355.4" y2="65.0" stroke="#8a8a8a" stroke-width="0.8"/>
<text x="348.5" y="76.2" style="font-family:'Liberation Serif',serif;font-size:10.4px" fill="#222">10<tspan dy="-5.2" dx="-0.3" font-size="7.6px">0</tspan></text>
<line x1="400.0" y1="62.6" x2="400.0" y2="65.0" stroke="#8a8a8a" stroke-width="0.8"/>
<text x="393.1" y="76.2" style="font-family:'Liberation Serif',serif;font-size:10.4px" fill="#222">10<tspan dy="-5.2" dx="-0.3" font-size="7.6px">1</tspan></text>
<line x1="444.7" y1="62.6" x2="444.7" y2="65.0" stroke="#8a8a8a" stroke-width="0.8"/>
<text x="437.8" y="76.2" style="font-family:'Liberation Serif',serif;font-size:10.4px" fill="#222">10<tspan dy="-5.2" dx="-0.3" font-size="7.6px">2</tspan></text>
<line x1="489.3" y1="62.6" x2="489.3" y2="65.0" stroke="#8a8a8a" stroke-width="0.8"/>
<text x="482.4" y="76.2" style="font-family:'Liberation Serif',serif;font-size:10.4px" fill="#222">10<tspan dy="-5.2" dx="-0.3" font-size="7.6px">3</tspan></text>
<text x="422.4" y="88.4" text-anchor="middle" style="font-family:'Liberation Serif',serif;font-size:10.3px" fill="#222">Age [days]</text>
<text transform="translate(335.3,38.6) rotate(-90)" text-anchor="middle" style="font-family:'Liberation Serif',serif;font-size:10.4px" fill="#222">eCDF [-]</text>
</g>
<rect x="72.5" y="691.5" width="377" height="18" rx="2" ry="2" fill="#fff" stroke="#d5d5d5" stroke-width="0.8"/>
<circle cx="86.3" cy="699.3" r="1.85" fill="#10253f"/>
<text x="104.5" y="702.6" style="font-family:'Liberation Serif',serif;font-size:10px" fill="#222">observed</text>
<line x1="160.1" y1="699.4" x2="180.8" y2="699.4" stroke="#3aa2ff" stroke-width="1.1"/>
<text x="188.8" y="702.6" style="font-family:'Liberation Serif',serif;font-size:10px" fill="#222">α = 0.1</text>
<line x1="236.2" y1="699.4" x2="256.9" y2="699.4" stroke="#41b5ae" stroke-width="1.1"/>
<text x="264.5" y="702.6" style="font-family:'Liberation Serif',serif;font-size:10px" fill="#222">α = 0.7</text>
<line x1="312.5" y1="699.4" x2="333.2" y2="699.4" stroke="#5e1fae" stroke-width="1.1"/>
<text x="340.8" y="702.6" style="font-family:'Liberation Serif',serif;font-size:10px" fill="#222">α = 1.0</text>
<line x1="389.1" y1="699.4" x2="409.8" y2="699.4" stroke="#d42a36" stroke-width="1.1"/>
<text x="417.5" y="702.6" style="font-family:'Liberation Serif',serif;font-size:10px" fill="#222">α = 5.0</text>
</svg></body></html>
